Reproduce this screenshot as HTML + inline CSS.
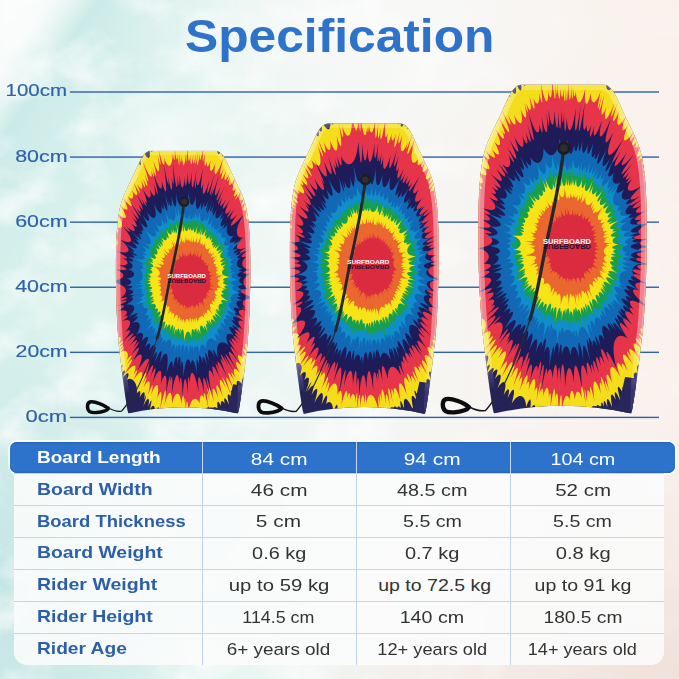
<!DOCTYPE html>
<html lang="en"><head><meta charset="utf-8"><title>Specification</title>
<style>
html,body{margin:0;padding:0}
body{width:679px;height:679px;overflow:hidden;position:relative;background:#eef4f2;font-family:"Liberation Sans",sans-serif}
.bg{position:absolute;left:0;top:0;width:679px;height:679px;
background:
 radial-gradient(ellipse 75px 45px at 165px 128px,rgba(255,255,255,.6),rgba(255,255,255,0) 100%),
 radial-gradient(ellipse 60px 90px at 285px 230px,rgba(255,255,255,.35),rgba(255,255,255,0) 100%),
 radial-gradient(ellipse 280px 120px at 380px 25px,rgba(249,250,249,.75),rgba(249,250,249,0) 100%),
 linear-gradient(125deg,rgba(250,252,252,.96) 0%,rgba(250,252,252,.9) 4.2%,rgba(250,252,252,.45) 6.2%,rgba(250,252,252,0) 8.5%),
 linear-gradient(125deg,rgba(200,233,231,0) 5%,rgba(198,232,230,.75) 8.5%,rgba(203,235,232,.5) 14%,rgba(214,240,236,0) 25%),
 radial-gradient(ellipse 210px 280px at 0px 590px,rgba(194,228,228,.95),rgba(198,230,230,.55) 55%,rgba(210,236,234,0) 100%),
 radial-gradient(ellipse 420px 270px at 679px 679px,rgba(239,224,217,.95),rgba(242,230,224,.5) 55%,rgba(245,236,231,0) 100%),
 linear-gradient(90deg,#dbf2ed 0%,#def3ee 18%,#e6f5f1 32%,#eff6f4 46%,#f5f6f3 60%,#f9f3ef 80%,#faf1ec 100%);}
.art{position:absolute;left:0;top:0}
h1{position:absolute;left:0;top:8px;width:679px;margin:0;text-align:center;font-size:46.5px;line-height:56px;font-weight:700;color:#2f72c9;white-space:nowrap}
h1 span{display:inline-block;transform-origin:50% 50%}
.lab{position:absolute;left:0;width:67.3px;text-align:right;font-size:17px;line-height:22px;color:#2f62a8;white-space:nowrap;-webkit-text-stroke:.15px #2f62a8}
.lab span{display:inline-block;transform-origin:100% 50%}
.tb{position:absolute;left:14px;top:458px;width:650px;height:206.7px;background:rgba(250,252,252,.88);border-radius:0 0 13px 13px}
.row{position:absolute;left:14px;width:650px;height:31.9px;border-top:1.1px solid #c6d6e9;box-sizing:border-box}
.row .c{position:absolute;top:-.2px;height:100%;display:flex;align-items:center;justify-content:center;font-size:17px;line-height:20px;color:#333;white-space:nowrap;box-sizing:border-box}
.row .c span{display:inline-block;transform-origin:50% 50%}
.row .c0{left:0;width:188.5px;justify-content:flex-start;padding-left:23px;font-weight:700;color:#2d5fa8}
.row .c0 span{transform-origin:0 50%}
.row .c1{left:187.7px;width:154px}
.row .c2{left:341.1px;width:154px}
.row .c3{left:492px;width:153.5px}
.row .c1,.row .c2,.row .c3{margin-top:.9px}
.row.hd .c1,.row.hd .c2,.row.hd .c3{margin-top:1.4px}
.vl{position:absolute;top:473px;width:1.2px;height:191.7px;background:#bfd2e6}
.row.hd{left:10px;width:665px;height:31.5px;top:441.9px;background:#2d72cb;border-radius:7px;border:none;box-shadow:0 0 0 1.7px rgba(255,255,255,.9), inset 0 1.2px 0 #2764b5, inset 0 -1.2px 0 #2764b5}
.row.hd .c{color:#fff;top:.5px}
.row.hd .c0{left:0;width:192.5px;padding-left:27px;color:#fff}
.row.hd .c1{left:191.7px}
.row.hd .c2{left:345.1px}
.row.hd .c3{left:496px;width:153.5px}
.hl{position:absolute;top:441.9px;width:1.6px;height:31.5px;background:#c4d9f3}
</style></head><body>
<div class="bg"></div>
<svg class="art" width="679" height="679" viewBox="0 0 679 679">
<defs><path id="bo" d="M125.5,0.0L126.0,0.2L126.8,0.5L127.6,0.8L128.6,1.2L129.5,1.7L130.5,2.5L131.4,3.3L132.3,4.2L133.3,5.2L134.3,6.4L135.4,8.1L136.7,10.3L138.2,13.2L139.8,16.6L141.6,20.4L143.4,24.5L145.2,28.5L147.0,32.4L148.8,36.1L150.7,40.0L152.5,43.8L154.3,47.5L156.0,51.2L157.5,54.6L158.8,57.7L159.8,60.6L160.8,63.3L161.7,66.1L162.4,69.0L163.2,72.2L163.9,75.6L164.5,79.2L165.1,82.9L165.6,86.8L166.1,91.0L166.5,95.6L166.9,100.4L167.2,105.4L167.5,110.6L167.7,116.4L167.9,122.8L168.0,130.0L168.1,138.4L168.1,147.9L168.1,158.1L168.0,168.5L167.8,178.6L167.6,188.0L167.3,196.8L166.9,205.5L166.5,213.9L166.0,221.9L165.5,229.5L165.0,236.6L164.5,243.0L163.9,248.7L163.3,253.9L162.7,258.9L162.1,263.9L161.5,269.0L160.9,274.4L160.2,279.8L159.5,285.1L158.8,290.4L158.1,295.4L157.5,300.0L156.9,304.4L156.3,308.6L155.7,312.5L155.2,316.1L154.6,319.3L154.2,322.0L153.8,324.1L153.5,325.7L153.1,326.9L152.9,327.7L152.7,328.4L152.5,329.0Q84.0,313.5 15.5,329.0L15.3,328.4L15.1,327.7L14.9,326.9L14.5,325.7L14.2,324.1L13.8,322.0L13.4,319.3L12.8,316.1L12.3,312.5L11.7,308.6L11.1,304.4L10.5,300.0L9.9,295.4L9.2,290.4L8.5,285.1L7.8,279.8L7.1,274.4L6.5,269.0L5.9,263.9L5.3,258.9L4.7,253.9L4.1,248.7L3.5,243.0L3.0,236.6L2.5,229.5L2.0,221.9L1.5,213.9L1.1,205.5L0.7,196.8L0.4,188.0L0.2,178.6L0.0,168.5L-0.1,158.1L-0.1,147.9L-0.1,138.4L0.0,130.0L0.1,122.8L0.3,116.4L0.5,110.6L0.8,105.4L1.1,100.4L1.5,95.6L1.9,91.0L2.4,86.8L2.9,82.9L3.5,79.2L4.1,75.6L4.8,72.2L5.6,69.0L6.3,66.1L7.2,63.3L8.2,60.6L9.2,57.7L10.5,54.6L12.0,51.2L13.7,47.5L15.5,43.8L17.3,40.0L19.2,36.1L21.0,32.4L22.8,28.5L24.6,24.5L26.4,20.4L28.2,16.6L29.8,13.2L31.3,10.3L32.6,8.1L33.7,6.4L34.7,5.2L35.7,4.2L36.6,3.3L37.5,2.5L38.5,1.7L39.4,1.2L40.4,0.8L41.2,0.5L42.0,0.2L42.5,0.0Z"/><clipPath id="bc"><use href="#bo"/></clipPath><filter id="nz" x="0" y="0" width="100%" height="100%" color-interpolation-filters="sRGB"><feTurbulence type="fractalNoise" baseFrequency="0.018 0.022" numOctaves="5" seed="11"/><feColorMatrix values="0 0 0 0 1  0 0 0 0 1  0 0 0 0 1  2.2 0 0 0 -0.95"/></filter><linearGradient id="nm" x1="0" x2="1" y1="0" y2="0"><stop offset="0" stop-color="#fff"/><stop offset="0.55" stop-color="#fff" stop-opacity="0.9"/><stop offset="0.8" stop-color="#fff" stop-opacity="0.25"/></linearGradient><linearGradient id="rg" x1="0" x2="0" y1="0" y2="1"><stop offset="0" stop-color="#fff" stop-opacity="0.3"/><stop offset="0.12" stop-color="#fff"/><stop offset="0.78" stop-color="#fff"/><stop offset="0.9" stop-color="#fff" stop-opacity="0"/></linearGradient><mask id="rm" maskUnits="userSpaceOnUse" x="-10" y="-10" width="190" height="350"><rect x="-10" y="-10" width="190" height="350" fill="url(#rg)"/></mask><mask id="nmk"><rect width="679" height="679" fill="url(#nm)"/></mask></defs>
<g mask="url(#nmk)"><rect width="679" height="679" filter="url(#nz)" opacity="0.75"/></g>
<rect x="70" y="91.30" width="589" height="1.4" fill="#2f62ac"/>
<rect x="70" y="156.38" width="589" height="1.4" fill="#2f62ac"/>
<rect x="70" y="221.46" width="589" height="1.4" fill="#2f62ac"/>
<rect x="70" y="286.54" width="589" height="1.4" fill="#2f62ac"/>
<rect x="70" y="351.62" width="589" height="1.4" fill="#2f62ac"/>
<rect x="70" y="416.70" width="589" height="1.4" fill="#2f62ac"/>
<g transform="translate(116.00,150.70) scale(0.7988)">
<path d="M-9.5,322.6C-14,318.6 -27,313.2 -32.5,314.6C-36.8,316 -36.6,323.5 -33,326.6C-29.5,328.8 -20,328 -14,325.8C-11.5,324.9 -10.2,323.8 -9.5,322.6Z" fill="none" stroke="#0c0c0e" stroke-width="4.3" stroke-linejoin="round"/>
<path d="M-9,322.5C-5,324.5 0,326.3 4,326.3L7,326C10,323 13,318.5 16.5,313.5" fill="none" stroke="#151517" stroke-width="1.5" stroke-linecap="round"/>
<g clip-path="url(#bc)">
<rect x="-2" y="-2" width="172" height="335" fill="#25225a"/>
<path d="M91.5,-16.4C91.9,-4.4 94.0,-4.3 95.2,-14.8C97.0,-3.9 103.7,-2.9 106.9,-12.4C107.6,-5.7 111.9,-4.4 115.6,-18.6C114.1,1.9 118.8,3.9 123.8,-11.9C122.0,-0.3 123.6,0.5 128.1,-16.8C124.3,7.7 128.8,10.5 135.4,-7.0C130.9,11.2 132.3,12.2 138.1,-5.6C133.5,12.5 135.5,14.1 143.8,-9.2C136.4,16.1 138.1,17.6 145.2,-0.6C141.3,15.3 145.1,19.1 151.2,8.5C146.5,23.8 149.5,27.5 159.2,10.0C153.2,26.0 155.7,29.5 160.4,23.1C154.5,35.8 155.6,37.4 166.4,18.7C159.0,36.3 162.2,41.8 169.8,33.2C164.7,44.8 167.5,50.4 172.7,46.3C166.2,57.2 167.6,60.6 178.2,48.7C172.8,63.3 178.2,79.4 186.0,79.6C177.7,89.2 179.2,95.3 189.4,90.2C178.7,100.8 180.0,108.0 193.4,102.8C182.5,110.4 183.0,113.7 193.9,109.2C183.4,116.6 184.1,121.8 190.0,121.1C183.6,126.7 184.3,134.7 195.7,134.2C184.7,139.1 185.0,144.3 195.9,143.9C186.3,148.1 186.5,154.9 193.9,156.7C188.7,161.6 188.6,172.9 199.9,177.4C184.0,177.3 183.8,182.0 193.9,185.5C184.7,185.4 184.3,190.4 192.0,194.3C184.8,196.6 183.0,208.9 192.2,217.8C181.3,213.0 181.0,214.6 191.3,220.6C182.4,217.9 181.2,223.3 187.1,229.1C180.5,226.2 179.7,229.5 184.3,233.9C179.7,233.0 178.0,238.8 184.6,246.6C175.2,241.6 172.9,248.0 176.8,254.8C171.1,250.4 170.0,253.2 175.8,260.7C170.8,257.5 169.0,261.7 175.5,271.6C167.6,263.6 166.3,266.2 171.6,274.4C164.1,268.3 160.6,274.6 165.8,286.3C159.7,280.4 156.4,285.6 158.0,292.2C151.7,284.0 148.9,287.9 153.3,299.9C149.0,294.1 146.3,297.3 152.9,315.4C142.8,294.4 141.0,296.3 147.9,315.4C140.4,300.0 137.5,302.8 141.9,318.7C136.4,306.1 134.2,308.1 136.2,316.9C133.1,311.0 130.5,313.1 131.4,319.9C127.7,310.5 125.1,312.3 128.0,327.6C124.2,317.6 121.2,319.4 121.8,327.9C119.1,318.4 117.1,319.4 118.6,331.5C115.1,315.1 114.1,315.6 117.2,335.6C113.1,317.4 110.6,318.4 111.8,332.8C108.7,320.1 105.2,321.2 105.3,333.5C102.3,323.0 96.8,324.1 95.4,333.8C94.2,324.2 91.9,324.4 91.5,337.0C90.5,323.6 88.7,323.7 88.1,336.5C86.7,322.7 82.8,322.5 81.1,336.6C80.6,328.3 78.5,328.0 76.7,348.4C77.3,321.8 74.9,321.3 72.8,336.9C73.6,320.4 72.0,320.1 70.1,333.3C69.8,322.5 65.8,321.2 62.6,334.0C63.6,322.4 61.7,321.6 59.7,329.7C59.8,323.0 57.0,321.7 53.7,333.4C55.6,318.6 52.6,317.0 48.3,330.7C49.9,317.8 46.3,315.4 42.1,325.0C45.9,309.8 44.5,308.8 40.2,321.3C42.9,308.2 40.1,305.9 34.0,320.4C39.2,304.0 38.4,303.2 34.9,312.1C37.6,301.2 34.9,298.6 29.4,309.3C31.9,300.5 29.7,298.2 26.1,304.1C27.7,291.8 20.6,282.3 13.7,286.6C17.7,277.9 15.7,274.7 7.2,285.5C14.0,273.7 12.5,271.1 3.7,281.8C10.0,272.2 9.1,270.6 2.4,278.8C11.5,265.6 10.6,263.8 -3.2,280.4C8.2,262.7 5.3,256.5 -4.7,264.3C3.4,253.0 1.3,247.6 -6.3,252.2C2.0,243.6 1.2,241.5 -13.7,253.5C-2.8,241.4 -4.6,235.4 -13.0,239.1C-6.0,232.2 -7.2,227.7 -14.5,230.6C-5.0,223.7 -5.4,221.7 -18.1,228.5C-5.5,220.2 -6.1,217.9 -17.5,223.4C-7.4,216.1 -8.3,211.5 -14.3,212.6C-8.9,207.0 -10.2,198.1 -17.4,197.1C-9.7,194.1 -9.9,191.9 -20.0,193.8C-9.9,189.4 -10.4,184.0 -17.8,183.4C-11.5,180.6 -11.7,175.6 -21.0,174.6C-11.4,172.8 -11.5,169.7 -18.5,168.9C-12.5,168.3 -12.6,166.9 -22.6,166.6C-14.2,165.0 -14.2,159.6 -20.7,157.4C-11.1,156.9 -11.0,153.4 -20.3,150.9C-14.3,143.7 -12.4,121.1 -16.1,111.5C-10.7,112.2 -9.7,106.3 -17.3,99.3C-7.3,104.1 -6.5,100.2 -13.7,93.5C-7.0,97.3 -6.4,94.5 -14.7,87.0C-3.6,94.1 -2.7,90.4 -12.3,80.7C-4.8,86.4 -4.4,84.8 -10.1,79.0C-1.9,79.5 3.3,64.1 -3.8,47.4C4.6,56.5 6.2,53.0 -1.0,41.0C9.6,54.4 10.9,51.7 5.3,41.7C10.1,47.2 11.6,44.4 2.7,28.3C14.3,43.7 17.5,38.5 10.4,21.4C19.0,36.3 20.3,34.4 16.1,24.7C20.8,30.6 23.9,26.5 19.7,13.3C24.8,21.9 27.6,18.8 25.3,9.8C31.5,23.0 33.5,20.9 27.9,2.7C32.8,12.7 35.8,10.0 33.4,-1.3C39.9,13.9 43.9,10.9 41.9,-2.6C44.8,4.3 47.4,2.7 45.2,-10.5C49.6,3.8 52.2,2.4 49.9,-13.5C54.5,1.4 58.6,-0.4 57.9,-14.2C61.6,-1.6 66.3,-3.0 66.0,-21.2C69.3,-2.4 73.0,-3.1 73.3,-16.7C75.7,-2.8 80.0,-3.2 80.8,-22.5C82.5,-3.4 85.9,-3.4 87.4,-14.3C88.2,-8.4 90.5,-8.3 91.5,-16.4Z" fill="#f4de1b"/>
<path d="M146.5,292.5L158,294L160,333L112,333L114,321.5L140,322Z" fill="#29265a"/><path d="M153,294.5L157.5,295L155.5,327L151.5,324Z" fill="#3b3870"/>
<path d="M89.5,-16.5C89.7,17.9 91.8,18.1 93.1,4.8C93.1,21.1 95.0,21.5 96.7,2.9C96.2,20.5 97.8,20.9 99.8,1.8C98.6,22.1 99.9,22.5 102.6,-2.1C100.6,24.5 102.0,25.0 105.1,1.6C104.1,16.4 105.9,17.1 110.3,-11.0C107.0,18.0 108.6,18.8 111.9,0.6C109.5,21.2 111.5,22.3 113.9,13.0C113.1,21.5 115.2,22.7 118.3,11.5C116.2,28.0 119.4,30.3 124.6,14.9C121.3,33.6 124.7,36.4 135.0,7.2C127.9,33.0 129.8,34.7 134.9,21.7C130.0,38.6 131.6,40.3 138.0,24.7C133.7,39.4 135.8,41.7 143.3,25.8C137.6,40.9 138.5,41.9 143.7,30.6C138.8,45.4 141.4,48.6 151.7,30.0C143.1,50.8 145.5,54.1 151.0,46.3C145.1,59.4 146.8,62.0 155.8,48.7C146.4,65.3 146.9,66.2 158.1,48.3C152.1,61.5 154.8,66.3 162.9,57.7C154.1,71.3 155.0,73.0 166.5,58.5C156.1,74.8 158.2,79.0 166.8,71.1C159.0,83.6 161.8,90.1 173.7,81.6C165.6,90.6 166.6,93.0 171.9,89.3C163.4,100.5 166.0,108.4 180.2,101.8C171.3,110.4 173.0,116.6 189.5,110.0C171.9,120.7 172.6,123.8 183.1,119.9C174.2,125.6 175.0,129.7 188.9,125.7C174.5,132.5 175.0,135.6 185.2,133.4C173.2,137.7 173.4,139.0 183.8,136.4C175.3,139.9 175.7,142.7 184.9,141.3C177.8,145.0 178.3,150.5 186.9,151.2C174.6,153.4 174.7,154.7 190.4,153.3C179.8,156.9 180.1,163.6 192.3,165.5C175.0,166.2 175.0,168.7 189.0,170.3C176.8,171.0 176.5,175.2 186.2,177.8C179.1,177.6 179.0,179.6 189.2,181.9C174.0,180.6 173.7,184.0 184.5,187.7C174.2,186.0 173.9,188.0 196.6,194.6C175.8,191.0 174.8,196.6 183.5,201.8C172.5,198.4 172.0,200.5 180.9,205.0C176.1,203.8 175.6,206.0 182.4,210.0C174.1,207.2 173.4,210.0 183.2,216.2C171.5,211.9 170.1,216.8 179.8,225.0C166.4,218.0 165.1,222.0 174.0,230.3C167.4,227.2 165.8,231.4 175.3,241.5C161.6,230.4 160.9,232.0 173.8,244.5C162.7,235.3 161.8,237.3 169.7,245.9C160.2,238.5 158.4,242.3 166.3,252.9C157.0,244.0 155.7,246.7 165.3,259.6C158.0,252.2 156.6,254.7 159.9,260.4C151.6,251.9 149.4,255.6 158.5,271.5C149.4,260.1 147.3,263.2 154.7,277.7C147.7,268.8 144.9,272.6 149.9,285.1C143.4,274.1 142.3,275.4 149.2,290.3C138.9,271.6 137.1,273.7 147.7,299.0C136.6,277.1 134.4,279.5 144.6,307.0C132.1,277.6 130.9,278.8 137.2,296.9C129.7,280.7 126.9,283.3 134.0,308.9C125.9,287.5 123.3,289.6 128.0,309.8C121.8,292.1 118.9,294.1 122.5,313.8C116.6,292.0 115.0,293.0 118.1,310.7C113.7,291.5 113.0,291.9 117.1,313.5C113.5,298.6 112.1,299.4 116.6,326.8C110.7,297.9 109.0,298.7 110.3,310.2C107.9,303.3 104.5,304.7 104.6,316.1C100.7,306.7 92.9,308.5 90.9,327.0C89.8,308.7 87.9,308.8 87.4,329.7C87.0,305.7 86.0,305.7 85.5,316.2C85.0,303.2 83.1,303.1 81.9,317.8C80.5,300.3 74.3,298.9 70.1,317.3C70.6,298.8 66.1,296.9 60.6,319.6C64.3,293.8 62.2,292.7 54.8,325.7C59.2,298.4 56.2,296.6 51.3,311.6C55.2,289.6 51.2,286.7 43.5,306.3C48.0,289.9 46.4,288.6 40.0,306.1C44.9,286.7 41.3,283.4 34.4,296.6C40.4,280.5 39.4,279.5 32.1,295.7C40.1,275.0 38.6,273.3 31.9,286.0C35.0,275.6 31.8,271.8 21.7,287.4C28.8,273.0 27.7,271.5 21.9,280.4C27.4,267.2 24.2,262.6 10.0,280.7C23.7,259.0 22.4,256.9 13.7,267.7C22.1,254.9 21.1,253.1 13.6,262.0C17.0,253.7 13.5,246.9 4.9,252.5C12.8,243.6 12.3,242.5 2.3,252.3C11.2,242.1 10.3,240.1 1.0,248.1C11.7,237.2 11.0,235.6 1.1,244.0C9.5,234.2 7.7,229.7 -5.0,237.7C6.2,227.2 4.8,223.1 -12.7,233.2C5.0,219.7 3.8,215.9 -4.3,219.2C4.5,212.5 3.5,208.5 -8.0,212.7C2.2,207.1 1.8,205.5 -19.1,214.6C1.8,202.2 0.3,194.6 -15.6,196.8C-2.5,190.8 -3.3,184.9 -14.4,185.1C-0.3,181.6 -0.6,179.2 -13.9,180.3C-6.0,177.5 -6.3,172.6 -23.7,172.1C-6.7,170.2 -6.8,167.5 -16.7,166.8C-6.6,166.1 -6.6,164.4 -21.0,163.5C-4.1,163.3 -4.1,161.9 -14.3,160.9C-5.0,160.0 -4.8,155.9 -13.6,153.4C-5.4,152.9 -5.0,148.3 -14.4,144.9C-6.0,145.6 -5.7,142.7 -10.7,140.4C-0.5,141.9 0.0,138.6 -15.5,132.4C-4.3,135.4 -4.0,133.5 -8.8,131.1C0.0,132.2 1.2,126.1 -7.6,119.5C4.4,122.0 6.7,113.2 -8.7,98.9C3.8,105.9 5.1,101.7 0.1,95.8C8.4,99.4 11.1,92.0 1.0,78.4C14.3,89.6 16.5,84.6 4.4,67.8C15.7,78.8 17.9,74.4 8.1,58.7C21.5,75.0 23.2,71.9 14.5,57.0C20.6,63.3 23.3,58.7 20.2,50.2C27.3,60.2 29.5,56.9 21.6,39.2C31.4,57.0 32.4,55.7 26.1,41.8C32.5,51.8 35.0,48.5 31.2,36.6C37.5,49.8 38.6,48.5 33.0,33.5C40.0,48.8 41.7,46.9 35.6,28.7C42.2,44.6 43.4,43.3 32.4,10.4C43.6,38.8 46.4,36.2 43.8,23.8C48.3,36.9 49.5,35.9 45.4,20.0C50.8,36.9 52.3,35.7 46.6,11.9C53.2,32.1 56.2,29.9 52.0,5.0C56.4,23.3 57.6,22.5 52.7,-4.4C59.2,23.3 61.7,21.8 60.3,8.5C65.1,24.4 70.9,21.8 71.0,2.6C72.8,15.8 74.4,15.3 73.3,-4.8C75.6,15.5 77.3,15.0 77.1,2.3C78.8,23.3 80.0,23.0 79.3,0.5C80.6,18.0 82.1,17.7 82.2,5.6C83.7,22.7 86.4,22.5 87.2,1.4C87.5,20.9 88.6,20.9 89.5,-16.5Z" fill="#e6344a"/>
<path d="M86.0,31.7C86.2,47.7 87.2,47.8 88.0,33.6C87.9,47.0 88.8,47.1 90.0,25.2C90.0,46.8 92.5,47.2 94.9,26.7C93.8,52.9 96.4,53.6 100.9,22.7C97.7,53.2 98.7,53.5 101.5,34.7C100.7,47.5 103.4,48.6 109.1,21.0C104.6,51.0 106.5,52.0 109.6,39.9C107.0,58.5 109.8,60.3 117.1,36.0C111.9,59.5 113.6,60.8 123.7,28.3C115.0,60.3 116.3,61.3 122.5,42.9C116.9,62.2 117.8,63.1 129.1,30.4C120.5,59.8 123.1,62.4 131.2,44.8C123.1,67.5 124.5,69.1 135.7,44.8C124.7,71.8 125.8,73.2 134.0,56.8C128.1,71.7 129.9,74.0 137.9,60.2C131.1,75.3 132.6,77.6 142.5,61.7C133.8,79.7 136.1,83.6 144.2,73.7C136.2,86.7 137.1,88.3 148.9,72.2C139.9,87.1 141.6,90.5 151.9,79.5C139.3,97.0 140.6,100.1 160.1,79.9C146.8,99.7 150.4,110.4 159.0,108.5C147.5,119.7 149.1,126.4 162.4,121.5C151.4,128.5 151.8,130.7 169.3,122.9C154.0,131.6 154.5,134.9 163.5,132.4C155.1,139.0 156.0,148.0 168.2,148.8C156.2,152.0 156.4,154.7 168.3,154.1C157.3,158.6 157.3,168.8 165.1,173.2C151.4,173.3 151.2,177.9 177.6,185.3C155.9,183.3 155.1,191.5 164.0,198.0C156.0,195.0 155.9,196.1 164.6,200.3C151.7,196.6 150.7,202.1 159.5,209.3C148.2,203.2 147.8,205.0 160.3,213.7C151.8,210.2 150.6,215.4 158.9,224.0C150.2,218.3 149.4,221.1 157.2,229.3C146.7,220.8 146.0,222.9 155.0,232.5C147.1,225.7 146.5,227.5 156.4,238.5C145.2,228.1 144.3,230.4 153.3,241.6C143.0,231.3 141.9,233.8 149.6,244.5C138.8,232.3 138.0,234.1 152.4,254.2C140.7,240.0 139.5,242.5 154.0,264.9C138.5,244.5 136.5,247.9 151.5,274.7C133.7,246.7 132.5,248.5 149.0,279.0C132.5,250.7 131.7,251.9 141.9,271.9C129.6,250.0 128.6,251.4 135.4,266.1C129.8,256.4 128.4,258.1 139.5,283.8C126.4,257.5 124.4,259.7 130.0,275.8C123.8,262.0 122.5,263.2 130.6,285.8C120.9,263.5 118.2,265.8 122.8,283.8C116.4,268.5 112.7,271.0 120.4,307.1C112.0,275.4 110.8,276.1 116.9,304.1C109.6,277.1 106.9,278.4 111.3,306.9C104.4,276.2 101.2,277.3 103.6,302.7C97.7,271.4 92.8,272.4 92.3,291.9C91.0,278.2 89.5,278.3 90.0,304.7C88.0,278.5 84.8,278.6 83.4,310.5C82.8,279.1 80.5,279.1 79.3,292.2C78.5,275.2 74.3,274.6 69.5,306.9C71.8,278.9 70.0,278.5 67.8,290.1C68.9,277.8 67.4,277.3 62.2,306.6C65.4,277.2 61.2,275.5 56.0,292.1C58.9,271.5 54.3,268.7 45.7,291.1C51.9,268.2 49.9,266.6 42.9,284.4C49.0,264.3 46.9,262.3 37.2,284.5C45.9,256.9 41.5,251.9 26.8,275.8C36.2,253.8 32.7,248.6 20.6,263.9C32.5,243.6 30.9,240.7 17.7,257.4C32.1,236.4 31.3,234.8 20.4,248.2C29.3,235.2 28.1,232.6 17.0,244.3C27.9,230.1 26.8,227.4 13.4,240.3C26.0,226.0 25.2,223.7 7.3,240.2C20.7,225.4 19.5,221.7 11.2,227.2C21.2,215.8 19.4,208.7 8.0,213.2C16.9,206.9 16.5,205.1 9.7,208.4C16.1,202.6 15.2,197.2 1.6,201.2C13.2,194.9 12.8,191.4 0.3,194.7C17.1,187.9 16.9,185.8 2.2,189.4C17.8,184.2 17.6,182.4 4.3,185.2C16.9,178.5 16.6,167.8 -7.0,163.7C13.6,161.3 13.9,153.7 -1.1,148.3C17.4,150.9 17.7,148.0 1.9,142.8C17.2,145.1 17.8,139.8 8.1,134.1C16.9,136.7 17.3,134.2 -0.7,124.9C19.1,131.4 20.6,124.1 5.9,111.4C21.6,119.2 23.7,112.1 8.5,95.3C19.9,104.9 20.5,103.1 12.7,94.6C24.9,104.7 26.3,100.9 18.9,90.7C27.4,98.8 28.8,95.6 19.7,82.5C28.0,91.9 28.9,90.0 18.5,74.7C32.1,91.8 33.4,89.3 14.7,59.8C33.7,87.5 34.4,86.2 25.6,71.4C31.8,79.8 33.2,77.4 27.3,65.5C35.5,78.5 36.8,76.5 25.0,52.8C35.8,72.1 36.8,70.7 30.9,58.0C39.0,73.2 39.9,72.0 35.4,61.7C39.5,68.6 40.9,66.8 33.1,47.3C42.0,63.9 45.2,60.4 42.5,48.7C48.3,61.3 51.2,58.7 46.7,40.0C53.9,61.8 55.2,60.8 46.1,25.8C55.2,53.8 58.8,51.4 57.1,37.3C62.8,58.9 65.5,57.4 59.5,15.5C65.5,48.0 66.9,47.3 65.3,32.8C69.2,54.2 71.2,53.4 69.8,33.8C71.8,46.6 73.4,46.2 71.0,13.1C75.3,52.8 77.5,52.4 77.1,31.1C78.5,47.9 79.9,47.8 79.7,29.6C81.5,51.5 84.7,51.4 86.0,31.7Z" fill="#1e1b59"/>
<path d="M91.3,52.1C92.1,72.3 96.5,72.9 100.0,56.6C99.0,76.6 102.9,77.7 107.3,62.8C105.1,76.7 106.7,77.3 110.7,62.9C109.3,72.6 111.6,73.8 116.3,60.3C110.9,80.5 111.8,81.0 117.3,63.7C112.2,82.4 113.4,83.2 121.0,61.7C115.6,79.9 117.2,81.0 123.6,65.2C118.6,80.0 119.7,80.8 122.8,73.9C119.8,83.0 121.0,84.0 125.9,73.8C122.3,85.9 125.7,89.2 134.2,76.4C128.9,87.5 130.2,89.0 135.6,80.9C128.3,95.7 130.3,98.4 137.5,89.8C132.2,98.6 133.3,100.2 139.8,92.4C136.2,101.8 140.2,109.5 147.5,106.4C139.8,115.2 141.1,118.3 151.3,111.2C145.0,117.4 145.7,119.6 161.8,108.4C142.6,124.1 143.5,127.1 155.1,120.8C144.1,128.7 144.7,130.8 156.1,125.0C147.1,130.9 147.5,132.8 160.0,127.0C149.8,133.2 150.3,135.8 155.5,134.4C149.0,139.8 150.0,146.9 158.2,147.4C152.3,149.5 152.4,151.3 158.3,150.8C150.0,153.8 150.2,158.0 157.2,158.8C152.7,160.7 152.7,165.6 160.3,167.5C150.5,168.4 150.3,172.3 162.4,175.2C150.9,174.3 150.7,176.5 158.2,178.6C151.1,178.2 150.9,181.0 158.3,184.0C149.2,182.1 149.0,183.9 158.5,187.5C148.9,186.5 148.0,192.4 156.4,198.6C145.4,194.4 144.7,197.8 153.1,204.0C146.6,201.0 146.0,203.0 157.6,211.6C144.8,204.4 143.8,207.8 150.3,214.3C142.3,209.0 141.5,211.2 157.3,226.0C143.8,215.1 143.0,217.2 149.4,224.3C140.4,217.2 138.9,220.3 147.6,231.4C139.0,225.3 135.4,231.5 140.9,243.4C130.7,234.5 123.7,242.4 127.4,259.1C120.8,245.0 119.5,246.0 123.7,258.0C116.7,244.3 113.0,246.9 116.5,263.5C111.1,247.5 109.5,248.4 114.8,270.9C109.6,254.3 107.2,255.4 108.9,267.4C104.7,251.5 102.4,252.4 104.6,270.7C101.6,256.8 99.5,257.3 101.8,280.4C97.8,258.8 94.4,259.4 93.8,268.1C91.5,256.7 86.7,256.9 84.4,284.5C84.3,259.3 82.3,259.2 80.9,271.5C81.2,253.6 78.9,253.3 76.5,269.9C77.3,253.4 75.0,252.9 70.9,275.0C72.0,259.6 68.7,258.5 63.1,279.5C67.5,249.6 62.4,247.0 54.5,265.4C59.7,246.2 57.2,244.5 47.3,267.6C53.6,249.0 51.8,247.4 45.3,260.2C52.3,242.6 50.8,241.2 44.3,253.2C49.5,240.9 47.9,239.3 40.6,251.5C45.1,240.5 42.7,237.6 35.2,247.2C43.3,231.9 40.9,228.5 31.7,238.6C36.2,229.7 33.4,224.6 25.4,230.3C33.0,218.8 30.0,211.5 20.2,215.8C29.7,207.6 29.1,205.4 21.3,209.8C30.2,202.8 29.5,200.6 15.7,208.1C26.6,198.6 25.0,190.7 12.2,192.7C23.7,187.1 23.2,183.4 17.3,183.8C24.0,181.4 23.9,179.8 15.3,181.2C24.1,177.7 23.8,173.5 13.4,173.3C22.9,171.4 22.9,169.1 12.2,168.9C21.1,166.9 21.1,162.0 13.1,160.0C25.4,158.7 25.8,152.6 15.3,148.2C22.5,148.0 23.1,142.8 15.4,138.1C23.4,140.1 23.8,137.5 14.9,132.6C24.3,135.8 24.9,133.0 18.7,128.7C29.3,133.8 29.5,132.6 16.9,125.0C25.0,128.7 25.6,126.4 12.7,117.2C29.1,126.3 30.1,122.7 18.7,112.5C30.5,120.5 31.5,117.9 22.4,109.0C30.3,115.0 31.0,113.2 17.9,100.1C34.2,114.6 34.9,113.1 26.5,104.0C32.3,109.3 32.8,108.3 27.9,102.6C33.1,106.7 34.3,104.3 31.1,99.2C34.8,102.1 36.4,99.3 29.1,88.2C40.4,101.0 42.6,97.6 33.4,81.0C41.7,91.7 44.0,88.9 38.6,76.8C48.3,90.1 53.0,85.5 47.3,66.1C55.8,83.6 59.2,81.2 56.4,68.0C59.5,75.8 61.2,74.8 58.8,63.9C64.4,80.9 66.7,79.8 60.9,51.1C66.2,72.6 67.3,72.1 65.6,61.9C68.8,73.2 71.1,72.4 69.1,55.5C73.5,75.8 76.5,75.1 75.2,53.3C77.9,70.2 80.6,69.8 80.8,56.7C82.4,74.0 84.1,73.9 84.2,55.7C85.8,73.2 89.4,73.2 91.3,52.1Z" fill="#1169b5"/>
<path d="M91.8,78.2C92.5,87.8 95.3,88.1 97.2,78.7C96.8,87.9 98.2,88.2 100.8,72.0C99.3,86.3 100.2,86.6 102.6,73.1C100.8,88.5 102.3,88.9 105.7,73.5C104.1,90.3 108.1,92.2 112.5,82.7C111.0,90.2 112.8,91.3 118.3,77.4C113.3,95.4 115.7,97.2 121.8,85.3C117.5,97.4 119.2,98.8 123.2,92.0C120.9,98.8 122.8,100.7 126.3,96.1C123.6,102.1 124.5,103.2 132.7,90.5C123.7,106.3 124.4,107.2 130.9,97.8C127.7,104.0 128.9,105.6 133.0,100.9C130.2,107.4 132.7,111.5 138.2,107.6C132.8,116.4 135.2,121.5 142.6,117.6C137.9,123.0 139.1,126.3 143.2,124.7C136.6,130.1 137.2,131.8 144.9,127.4C137.2,133.0 137.7,134.7 146.4,130.2C140.4,134.6 140.9,136.8 147.7,134.2C141.4,138.7 142.1,142.2 147.2,141.5C141.2,145.3 141.8,149.7 147.9,149.7C141.0,151.8 141.1,153.1 149.5,152.0C142.4,155.1 142.7,160.3 153.1,161.8C141.5,163.3 141.5,167.0 149.9,168.9C143.9,169.9 143.6,174.2 154.7,178.0C142.6,178.0 141.5,185.6 146.2,190.5C139.6,189.4 138.3,194.5 150.8,204.9C137.2,197.0 136.2,200.0 144.8,208.2C136.9,203.1 135.6,206.1 139.6,211.2C134.7,208.5 132.8,212.4 138.2,220.8C129.9,212.4 128.5,214.7 136.9,227.2C128.4,216.6 127.7,217.7 132.6,225.3C127.1,219.8 124.8,222.9 130.4,235.0C124.1,226.0 122.1,228.3 126.8,239.9C118.9,230.4 112.2,235.6 112.7,247.4C108.8,239.5 104.5,241.4 105.1,253.9C102.2,241.2 100.5,241.7 100.8,248.6C99.4,243.0 97.4,243.4 97.5,251.5C96.1,242.8 94.5,243.0 94.4,249.2C93.3,240.6 91.5,240.7 91.3,255.7C89.9,241.2 86.8,241.2 85.3,251.6C85.1,239.2 82.8,238.9 80.7,253.6C81.1,240.4 78.8,239.9 76.6,249.9C77.3,241.0 75.9,240.6 73.0,254.1C74.6,240.1 72.3,239.1 69.2,248.7C70.7,235.1 66.5,232.7 61.8,241.4C62.8,236.0 60.8,234.5 56.8,242.0C60.0,232.8 58.6,231.6 55.9,236.1C57.8,228.6 54.7,225.4 49.7,231.1C52.5,225.2 51.3,223.9 45.1,232.6C51.2,221.5 49.7,219.3 44.7,224.7C47.8,218.8 46.2,216.1 37.2,225.3C47.0,212.9 46.2,211.4 40.1,217.4C46.5,209.4 45.6,207.5 37.4,214.7C43.0,207.4 41.3,203.6 36.0,206.1C41.8,199.6 40.4,195.2 33.8,197.5C36.6,195.2 36.1,193.6 32.3,195.1C36.2,191.8 35.5,188.6 24.3,192.4C35.2,186.6 34.8,184.0 28.7,185.2C37.2,181.1 36.8,178.2 30.0,179.0C34.4,177.2 34.2,175.1 30.0,175.2C35.4,173.6 35.3,171.8 22.0,173.1C36.5,170.2 36.4,167.8 21.7,167.8C35.0,166.6 35.0,165.5 28.6,165.3C34.3,161.9 34.7,152.8 30.0,148.5C35.8,148.8 36.3,145.4 29.5,141.7C37.0,143.8 37.4,141.8 22.6,134.5C37.6,139.4 38.7,134.7 32.5,129.2C39.1,132.6 39.5,131.0 32.9,125.8C38.4,128.2 39.5,124.9 32.0,117.4C43.5,125.8 44.4,123.7 36.6,115.7C44.5,120.4 47.2,115.2 36.2,99.0C49.6,112.6 52.7,108.1 48.1,97.5C54.1,105.5 55.8,103.4 49.8,90.5C56.0,98.6 59.5,95.3 56.3,83.4C61.6,95.2 62.9,94.2 60.3,85.8C64.3,94.3 66.2,93.0 61.4,74.7C66.8,89.7 68.8,88.5 68.1,82.7C71.9,91.4 75.9,89.8 74.0,68.2C77.4,87.2 78.8,86.8 76.6,65.6C80.4,87.0 83.6,86.5 83.9,71.2C86.2,88.4 90.2,88.3 91.8,78.2Z" fill="#108ecb"/>
<path d="M90.7,85.7C91.6,91.9 94.9,92.3 96.9,82.9C96.2,94.2 97.2,94.4 98.9,84.0C98.5,92.4 100.2,93.0 102.9,81.0C101.4,92.7 102.6,93.1 104.1,88.3C103.3,93.8 104.2,94.2 106.4,85.9C105.0,95.0 106.7,95.8 109.8,86.9C108.1,95.6 109.9,96.6 112.2,91.9C110.6,98.8 112.0,99.8 114.6,94.3C113.2,101.3 115.9,103.6 120.6,96.4C116.6,106.6 118.3,108.3 123.1,101.1C121.3,106.2 123.1,108.4 125.9,105.8C124.8,111.8 128.8,118.2 133.8,116.7C130.7,120.9 131.7,123.0 138.2,118.1C131.8,125.1 132.9,127.7 136.7,125.9C132.3,131.2 133.9,135.7 140.4,133.8C136.7,137.0 137.5,139.9 143.9,138.1C136.7,142.0 137.0,143.7 143.4,141.9C137.6,144.9 138.0,147.2 143.7,146.4C136.8,149.3 137.2,152.0 145.2,151.2C138.3,153.7 138.5,156.8 143.1,157.4C137.2,159.4 137.2,163.7 144.8,165.6C137.6,166.5 137.4,170.4 143.4,172.9C136.9,173.1 136.4,177.5 147.0,182.7C136.4,180.1 135.7,183.3 145.4,189.0C137.3,186.5 136.5,189.8 138.7,192.4C135.9,191.7 135.0,194.3 140.4,199.1C131.9,194.1 130.9,196.6 138.7,204.2C132.3,200.6 130.5,204.5 134.9,211.0C129.5,207.2 127.5,210.7 130.2,216.2C125.2,210.5 124.3,211.8 128.7,218.9C123.7,212.7 122.9,213.8 127.9,222.3C123.1,216.3 121.5,218.2 122.8,222.1C119.5,218.9 116.5,221.9 117.4,227.2C114.9,223.4 113.1,224.9 115.1,232.0C112.2,225.3 111.4,225.9 115.2,237.8C110.3,227.2 107.2,229.1 108.8,240.3C105.2,231.2 101.5,232.7 102.2,245.0C99.4,230.9 97.7,231.4 98.2,241.1C96.9,233.1 95.9,233.3 96.1,239.4C94.9,231.0 93.9,231.2 94.3,243.1C93.0,230.7 91.5,230.8 91.4,244.1C90.7,235.4 89.3,235.4 88.8,240.5C87.9,231.9 85.1,231.7 83.5,240.5C83.3,231.6 80.8,231.1 78.8,240.0C78.6,232.7 75.4,231.5 72.9,237.5C73.9,229.5 72.1,228.6 67.5,243.1C70.5,229.2 68.6,228.1 65.2,236.1C67.9,224.7 65.3,222.8 60.4,231.9C63.0,223.8 61.3,222.3 57.6,228.2C60.7,219.9 59.0,218.1 55.0,223.6C56.2,217.3 52.4,212.2 45.9,217.0C52.1,207.6 50.6,204.9 44.5,209.9C48.0,205.1 46.9,203.0 43.6,205.1C48.1,199.2 46.7,195.8 37.9,200.8C43.7,195.8 43.1,194.2 39.8,195.8C43.4,192.2 42.4,189.1 32.4,193.3C42.7,186.4 41.9,183.1 36.9,184.0C40.6,181.6 40.2,179.3 34.4,180.3C41.1,177.1 40.7,174.1 35.9,174.1C38.4,171.7 38.1,166.3 34.4,164.6C40.8,163.9 40.7,162.4 31.7,161.8C39.2,160.6 39.3,156.8 33.2,154.7C40.7,155.0 40.9,153.0 35.4,151.1C38.6,151.2 38.8,149.7 35.9,148.4C39.9,147.9 40.6,143.6 31.1,138.0C41.4,141.6 41.8,139.7 35.1,135.6C43.5,139.1 44.0,137.4 37.9,133.2C44.8,135.2 46.5,130.3 39.2,122.4C45.7,126.5 46.7,124.1 41.5,118.1C47.4,122.7 48.4,120.7 44.6,115.7C49.2,118.8 51.0,115.7 46.8,108.6C51.4,113.2 52.9,111.1 50.8,106.6C53.9,110.1 55.0,108.6 53.4,104.9C57.1,109.9 58.3,108.5 53.7,99.0C57.8,105.1 59.1,103.8 55.7,95.8C61.1,105.9 62.0,105.1 58.9,97.7C62.0,102.8 63.6,101.4 61.8,95.0C65.0,99.0 68.7,96.5 67.9,88.4C70.6,96.0 71.9,95.3 70.9,89.0C72.6,94.0 73.8,93.5 73.3,89.4C75.0,95.5 76.0,95.1 74.5,85.3C76.8,93.0 79.4,92.2 79.1,83.3C81.1,93.4 83.0,93.0 82.9,82.3C83.9,92.1 84.6,92.0 84.5,86.2C86.0,92.7 89.4,92.6 90.7,85.7Z" fill="#179f4d"/>
<path d="M90.8,95.3C91.1,100.9 92.4,101.0 93.2,95.8C93.7,101.3 96.0,101.8 97.5,96.4C97.1,104.6 99.1,105.2 102.0,93.2C100.0,106.8 101.4,107.3 103.8,99.4C102.5,106.5 103.5,107.0 107.1,95.1C103.8,108.5 104.7,108.9 108.5,97.3C106.2,107.5 108.1,108.7 113.1,97.4C109.7,108.2 111.0,109.2 113.7,104.3C111.5,111.2 113.1,112.6 117.4,105.5C114.8,111.3 115.3,111.8 119.0,105.1C116.0,112.2 117.1,113.5 120.9,108.2C117.9,114.6 119.4,116.3 121.9,113.9C119.1,119.1 120.1,120.5 124.0,116.3C119.7,122.6 120.5,123.7 126.9,116.5C122.0,123.3 122.7,124.5 130.2,117.0C123.5,125.7 124.9,128.3 133.2,122.0C125.3,129.8 125.8,131.0 134.3,124.5C128.2,131.5 129.9,135.9 135.1,134.4C128.5,139.2 129.1,141.1 137.0,137.7C128.9,142.8 129.5,145.1 137.7,142.6C132.6,145.5 133.1,147.7 136.2,147.5C130.4,151.4 131.0,157.1 142.9,158.0C132.3,159.7 132.3,162.2 136.9,163.1C132.6,164.0 132.5,166.9 140.6,168.8C134.0,168.8 133.8,171.1 140.1,173.2C131.7,171.8 131.6,172.9 136.9,174.6C131.1,174.2 130.7,177.1 135.6,179.9C129.6,178.8 128.9,181.8 140.9,188.9C130.7,184.8 129.8,187.7 134.2,191.6C128.7,190.3 126.5,195.7 129.8,201.3C123.5,195.8 122.9,197.0 129.7,204.7C122.4,197.5 121.9,198.3 132.1,209.9C123.0,200.9 121.8,202.8 127.0,210.4C120.4,203.3 119.0,205.3 124.5,214.7C119.1,208.4 117.3,210.5 120.3,217.7C115.1,209.2 114.3,210.0 118.9,219.5C113.3,209.9 112.1,211.0 114.9,218.4C112.7,215.1 111.3,216.3 115.2,227.4C110.2,216.3 109.0,217.1 111.3,224.8C106.7,215.4 103.8,217.1 106.0,230.4C103.3,221.2 102.0,221.8 103.4,230.8C100.7,219.2 100.1,219.5 101.7,229.3C99.5,220.8 97.9,221.3 98.2,227.7C96.4,220.7 94.2,221.1 94.4,233.8C92.0,223.1 87.6,223.2 85.3,238.2C85.3,220.4 82.7,220.0 80.5,231.1C81.5,220.5 80.6,220.2 79.0,229.4C79.7,220.8 78.0,220.2 75.8,228.0C76.6,221.8 75.1,221.2 72.1,231.2C75.0,217.5 73.8,216.9 70.3,227.6C73.0,216.1 71.3,215.1 66.9,225.9C69.4,216.3 67.2,214.7 62.5,223.5C65.3,215.8 64.2,214.8 58.5,225.5C63.8,212.6 61.8,210.5 56.3,218.0C61.3,208.4 60.2,207.1 54.4,214.6C59.9,205.0 58.4,203.0 52.2,209.7C57.7,201.3 56.2,199.0 50.7,203.5C54.0,198.6 52.7,196.0 48.6,198.3C51.4,194.0 49.8,189.9 43.3,192.3C49.9,187.4 49.4,185.9 41.0,190.1C49.8,184.7 49.6,183.9 41.5,187.9C48.6,183.4 48.2,181.5 41.5,183.9C47.7,179.8 47.0,176.2 41.2,176.7C45.9,174.9 45.7,174.0 40.6,174.9C47.1,172.5 46.8,170.3 41.1,170.5C44.9,169.0 44.7,166.5 38.9,166.1C44.6,165.0 44.6,163.1 39.1,162.4C44.0,161.9 44.1,160.1 38.2,159.1C45.9,159.2 46.0,157.8 40.7,156.7C43.9,156.6 44.0,155.3 39.0,154.0C47.1,154.3 47.5,150.9 41.5,147.8C45.9,148.8 46.1,147.6 41.9,145.7C48.0,146.8 48.7,143.7 40.8,138.7C48.2,141.8 48.6,140.5 43.7,137.3C47.2,138.7 47.7,137.2 41.9,133.0C51.0,137.5 52.1,134.5 47.3,129.5C52.1,131.4 53.9,127.6 49.7,121.2C55.0,125.7 56.3,123.6 51.1,116.0C57.7,123.3 58.5,122.0 53.3,114.1C59.3,121.3 60.4,119.9 55.7,111.6C59.9,117.2 60.9,116.1 56.5,107.6C62.1,115.0 64.6,112.6 63.1,106.8C66.1,112.0 67.4,110.9 63.3,99.3C67.9,107.8 70.5,106.0 69.4,98.8C71.7,105.1 72.6,104.6 70.8,96.8C73.7,105.2 75.2,104.5 74.3,98.5C76.7,106.8 77.8,106.3 75.1,90.0C78.7,106.1 80.2,105.6 79.1,95.0C81.3,105.3 83.2,104.9 82.4,88.6C84.2,104.9 85.2,104.8 84.9,92.5C86.5,103.2 89.6,103.1 90.8,95.3Z" fill="#f6e416"/>
<path d="M92.2,109.5C92.4,116.3 93.4,116.4 94.3,107.0C94.2,116.9 95.7,117.2 97.3,108.3C97.0,116.9 99.0,117.5 101.6,107.5C100.2,118.2 102.1,119.1 106.5,105.8C104.1,117.7 106.4,119.1 109.0,114.9C107.6,119.9 108.8,120.8 112.0,114.9C110.3,122.2 113.5,125.4 117.6,121.9C114.3,128.3 115.6,130.2 119.1,127.1C117.4,130.1 118.3,131.6 123.8,126.6C116.8,134.8 117.3,135.7 122.8,130.9C119.7,134.6 120.3,135.9 127.3,130.3C118.7,138.4 119.3,139.7 127.2,134.1C120.3,140.7 121.3,143.4 125.9,141.8C123.4,144.2 124.0,146.6 128.2,145.6C124.1,148.1 124.4,149.8 128.6,148.9C123.5,151.6 123.9,154.3 129.9,154.0C122.9,155.9 123.0,157.2 135.6,155.8C125.2,158.4 125.3,161.6 130.6,162.7C125.7,164.2 125.4,168.6 133.0,171.9C125.3,170.8 125.0,173.0 127.9,174.7C122.7,174.3 121.8,177.9 127.3,182.3C123.3,180.7 122.8,182.4 126.1,185.3C122.5,184.0 121.6,186.4 125.0,190.3C119.2,186.3 118.4,188.1 122.9,193.4C117.3,189.5 115.6,192.4 120.2,200.1C116.1,195.3 115.5,196.2 121.6,205.3C114.0,196.2 112.2,198.3 114.7,204.6C112.1,201.3 110.5,202.7 111.5,206.5C109.1,201.9 108.3,202.5 110.8,209.1C107.3,205.2 102.8,207.8 102.7,215.0C100.3,206.3 98.9,206.8 99.9,215.8C98.2,207.8 96.8,208.1 97.4,216.3C95.8,207.8 94.4,208.0 94.5,217.4C93.3,206.4 92.0,206.5 91.6,216.3C90.5,208.8 87.4,208.6 85.6,216.5C85.7,209.1 84.1,208.7 82.2,216.4C82.9,209.1 81.5,208.6 79.5,215.3C81.2,206.3 80.5,206.0 78.4,213.5C80.2,205.4 79.5,205.1 76.4,215.6C78.7,203.9 76.2,202.4 71.8,211.0C74.2,202.7 72.2,201.0 68.6,206.2C70.9,200.1 69.4,198.5 64.3,205.3C69.1,197.1 68.5,196.3 65.2,200.7C68.2,195.0 66.9,193.1 63.0,196.8C65.0,193.3 64.1,191.8 60.7,194.5C63.5,190.8 62.8,189.5 59.6,191.8C63.8,186.8 62.8,184.8 55.1,189.7C60.0,184.3 58.6,180.2 54.1,180.9C58.0,177.8 57.3,174.7 54.3,174.6C57.8,172.4 57.3,169.3 52.1,169.1C57.5,167.5 57.3,165.6 51.9,165.4C56.5,164.5 56.4,162.7 51.7,162.2C58.2,161.4 58.2,159.1 51.1,157.6C56.3,156.2 57.1,150.5 47.7,144.7C58.7,148.2 59.3,145.8 50.8,140.3C61.3,145.0 62.2,142.5 55.4,136.6C60.4,139.5 61.0,137.9 56.5,133.4C61.3,135.9 62.9,132.7 59.2,127.0C65.7,133.5 66.4,132.4 58.9,122.5C67.0,131.2 68.6,129.1 64.9,121.8C68.1,125.9 69.1,124.7 67.8,121.4C69.7,123.9 70.6,123.0 69.5,119.8C71.4,122.2 72.9,121.0 69.2,110.8C74.3,122.0 75.2,121.4 72.7,114.0C75.5,119.2 77.6,117.9 76.1,109.5C79.6,120.1 80.9,119.5 79.4,111.1C81.1,116.8 82.2,116.4 80.1,103.1C83.3,117.8 84.6,117.4 84.1,110.3C85.5,117.8 86.6,117.6 86.1,107.1C87.2,115.1 88.3,114.9 88.3,107.3C89.0,113.8 90.0,113.8 90.2,108.3C90.7,114.1 91.8,114.1 92.2,109.5Z" fill="#ea672f"/>
<path d="M93.1,124.2C93.9,133.4 96.3,133.7 98.4,125.0C97.7,132.7 98.9,133.1 100.4,128.1C99.2,135.2 100.2,135.6 103.8,123.7C101.3,134.1 102.4,134.7 104.1,131.0C102.8,135.8 103.6,136.4 108.1,126.7C105.2,136.2 107.6,138.4 110.3,136.3C108.8,139.9 110.4,142.0 113.8,139.4C110.8,143.7 111.9,145.5 116.3,142.6C113.4,147.2 115.1,151.9 119.4,152.0C114.9,154.5 115.3,156.3 121.8,155.3C116.2,157.8 116.4,160.8 120.4,161.7C115.9,162.4 115.9,164.2 120.3,165.2C116.9,165.1 116.8,165.6 121.1,166.4C116.3,166.2 116.2,167.7 122.7,169.7C116.0,168.9 115.5,171.3 122.9,175.2C114.8,172.7 114.0,175.2 117.7,178.6C112.2,175.9 111.3,177.8 117.6,184.3C110.9,178.8 110.4,179.7 115.5,185.4C111.2,181.3 110.8,181.9 113.8,185.6C109.5,182.8 107.0,185.8 111.4,196.5C105.6,186.6 104.8,187.3 107.6,194.4C103.9,187.8 102.4,188.8 104.7,197.6C101.5,190.3 99.5,191.2 100.0,197.2C98.8,193.1 97.7,193.4 97.9,198.1C96.3,192.0 94.2,192.3 93.6,197.9C93.1,193.2 91.9,193.2 91.2,199.1C91.0,194.0 89.5,193.8 88.3,200.0C88.8,193.5 87.9,193.3 86.4,200.0C87.5,191.1 86.1,190.6 83.9,197.1C84.5,191.6 82.1,190.3 79.1,195.1C81.2,189.4 80.4,188.8 78.0,192.9C80.0,188.0 79.2,187.2 76.0,192.1C78.6,187.0 78.1,186.5 74.6,191.6C77.9,185.3 76.8,183.9 71.9,189.0C75.6,183.9 75.0,182.9 71.2,186.6C74.1,181.7 72.4,178.4 68.3,179.8C72.7,175.4 71.6,172.0 66.9,172.5C69.7,170.8 69.4,169.0 65.7,169.3C71.3,167.2 71.1,165.1 66.6,164.7C71.2,163.7 71.2,161.9 65.9,161.0C69.0,160.4 69.2,158.1 66.8,156.8C70.7,157.0 71.0,155.1 65.1,152.3C71.9,154.0 72.5,151.7 68.3,148.4C71.3,149.7 71.7,148.6 69.5,146.7C73.9,148.7 74.9,146.6 71.4,142.3C74.1,144.4 74.6,143.6 72.6,141.1C74.5,142.1 75.6,140.4 71.5,133.9C76.4,139.4 77.7,138.0 76.5,134.8C79.0,137.7 80.6,136.3 78.1,129.0C81.9,135.3 84.2,133.9 82.8,125.3C85.6,134.6 86.2,134.3 85.0,127.9C86.5,133.8 87.0,133.7 85.9,127.7C87.9,134.2 89.7,133.8 89.8,128.3C90.5,132.9 91.2,132.8 91.1,126.0C91.7,131.8 92.8,131.8 93.1,124.2Z" fill="#db2b3e"/>
<g mask="url(#rm)"><use href="#bo" fill="none" stroke="#ffffff" stroke-opacity="0.40" stroke-width="11"/><use href="#bo" fill="none" stroke="#ffffff" stroke-opacity="0.25" stroke-width="3"/></g>
<path d="M85,65.6C82,95.6 74,130.6 67.5,160.6C61.5,190.6 57.5,215.6 51.5,235" fill="none" stroke="#27272b" stroke-width="3.3" stroke-linecap="round"/>
<path d="M51.5,235C42,266 27,300 14.5,319.6L8,327" fill="none" stroke="#2a2a30" stroke-width="1.3" stroke-linecap="round"/>
<circle cx="85.3" cy="63.8" r="6.6" fill="#1d1d22"/>
<circle cx="85.3" cy="63.8" r="3.6" fill="#2e2e36"/>
<text x="88.5" y="159.4" font-family="'Liberation Sans',sans-serif" font-weight="700" font-size="6.3" fill="#ffffff" text-anchor="middle" textLength="48" lengthAdjust="spacingAndGlyphs">SURFBOARD</text>
<text transform="translate(88.5,160) scale(1,-1)" x="0" y="0" font-family="'Liberation Sans',sans-serif" font-weight="700" font-size="6.3" fill="#1a1030" text-anchor="middle" textLength="48" lengthAdjust="spacingAndGlyphs">SURFBOARD</text>
</g>
</g>
<g transform="translate(290.00,123.20) scale(0.8836)">
<path d="M-9.5,322.6C-14,318.6 -27,313.2 -32.5,314.6C-36.8,316 -36.6,323.5 -33,326.6C-29.5,328.8 -20,328 -14,325.8C-11.5,324.9 -10.2,323.8 -9.5,322.6Z" fill="none" stroke="#0c0c0e" stroke-width="4.3" stroke-linejoin="round"/>
<path d="M-9,322.5C-5,324.5 0,326.3 4,326.3L7,326C10,323 13,318.5 16.5,313.5" fill="none" stroke="#151517" stroke-width="1.5" stroke-linecap="round"/>
<g clip-path="url(#bc)">
<rect x="-2" y="-2" width="172" height="335" fill="#25225a"/>
<path d="M93.2,-15.4C94.3,-6.1 98.3,-5.7 100.6,-19.9C101.1,-5.0 105.5,-4.1 108.2,-13.8C107.2,-1.1 108.7,-0.7 111.1,-15.0C109.8,0.4 111.9,1.1 116.2,-21.7C113.3,0.2 115.0,0.8 117.3,-9.0C116.9,-1.6 119.4,-0.5 123.5,-16.3C120.2,4.2 122.5,5.4 125.8,-5.6C124.1,6.2 126.7,7.7 130.5,-3.6C128.8,6.2 130.6,7.4 135.5,-7.6C130.9,10.9 132.3,11.9 138.4,-6.4C134.2,13.1 138.0,16.3 143.7,4.8C141.8,13.9 145.0,17.1 153.6,-0.9C144.2,24.1 145.3,25.4 152.1,10.6C149.1,25.4 155.2,33.7 161.8,28.0C158.3,35.7 159.3,37.4 164.0,30.4C158.8,40.6 159.6,42.0 167.2,30.2C162.3,41.0 164.6,45.1 169.1,40.8C165.1,50.9 168.3,58.1 178.9,48.5C170.7,60.0 171.5,62.0 178.4,54.6C170.2,68.9 173.3,78.1 182.9,72.9C178.3,78.8 179.2,82.2 187.2,76.5C176.2,87.3 176.9,90.0 184.0,85.2C176.9,92.0 177.4,94.2 186.2,88.1C179.5,94.5 180.1,97.4 187.4,93.2C179.7,100.8 180.7,106.2 187.5,104.0C181.9,109.6 182.8,115.6 190.4,113.9C182.9,118.5 183.2,120.9 199.7,114.1C185.7,122.2 186.3,127.0 191.4,126.8C184.9,132.0 185.5,140.1 196.1,140.5C186.0,144.5 186.2,149.5 195.1,149.9C185.8,154.2 185.9,163.4 192.5,166.6C187.3,167.5 187.3,170.3 201.5,172.0C187.3,172.6 187.2,176.9 194.6,179.3C184.1,179.5 183.9,184.0 193.0,187.4C185.5,187.8 184.9,193.6 194.1,198.4C183.2,196.3 182.7,200.1 193.7,205.5C181.8,201.8 181.4,203.9 194.2,209.9C181.4,205.5 181.0,207.9 193.1,214.4C181.0,211.1 179.8,217.3 190.1,225.6C180.4,222.3 178.9,228.3 185.9,235.7C179.1,232.4 178.0,236.1 182.8,241.5C177.3,238.0 176.6,240.1 180.2,244.0C175.9,241.8 174.7,245.3 178.9,250.8C173.5,247.9 171.6,252.8 175.4,259.1C169.4,255.4 167.1,260.8 171.3,268.8C165.8,267.1 160.9,276.3 162.8,285.0C156.8,277.6 154.8,280.7 161.9,295.3C154.7,285.3 152.2,288.9 156.5,300.2C151.1,291.3 149.7,293.1 153.7,303.0C148.5,294.5 146.5,296.9 148.5,303.7C145.5,299.6 143.3,302.0 146.5,312.4C139.9,297.7 138.6,299.1 145.1,317.8C138.0,302.8 134.8,305.8 141.0,328.7C131.4,305.1 127.0,308.5 129.5,324.7C124.9,310.0 123.3,311.1 126.7,327.9C123.2,316.4 121.2,317.6 123.2,329.9C119.0,315.6 116.0,317.1 118.3,335.2C113.5,317.9 109.2,319.7 109.2,331.6C106.6,322.0 102.7,323.1 102.4,335.1C100.9,327.0 98.5,327.5 98.2,334.5C96.2,321.6 92.8,322.0 92.3,342.5C90.7,328.7 87.0,328.8 85.6,336.4C83.9,323.6 78.2,323.1 75.0,342.1C74.1,325.0 68.0,323.4 64.7,332.2C65.6,322.8 64.5,322.4 62.2,335.0C62.0,324.0 56.8,321.6 52.4,333.4C55.3,315.2 53.1,313.9 48.6,329.1C49.7,316.1 44.5,312.5 40.8,317.9C43.7,305.5 41.6,303.8 35.6,319.0C39.5,302.8 36.0,299.5 27.5,317.0C33.5,298.6 30.9,295.7 24.3,307.6C28.5,295.5 26.2,292.8 19.2,304.6C26.3,289.4 25.8,288.7 17.4,304.8C24.2,288.1 21.5,284.3 16.1,290.8C19.9,281.6 17.5,278.0 11.1,285.8C15.9,273.4 11.8,265.9 0.6,275.9C9.3,263.3 7.9,260.4 -1.0,269.2C5.6,255.8 0.9,243.9 -10.8,248.6C-2.4,239.5 -3.9,234.7 -15.6,241.4C-5.1,231.8 -6.3,227.2 -12.3,229.2C-5.5,221.9 -7.1,214.2 -13.8,214.6C-7.4,208.9 -8.5,201.8 -16.8,202.2C-9.7,197.2 -10.4,190.2 -19.9,189.9C-9.9,186.5 -10.1,182.9 -22.4,183.8C-11.4,180.6 -11.6,176.8 -21.6,176.5C-11.1,174.5 -11.2,171.5 -18.3,170.9C-14.8,169.7 -14.8,166.6 -19.3,165.4C-14.3,162.9 -14.2,156.4 -20.4,153.6C-13.7,153.6 -13.6,151.1 -21.7,149.1C-13.8,149.1 -13.6,145.7 -18.5,143.5C-14.0,140.2 -13.0,128.2 -20.6,121.0C-11.8,122.3 -11.0,115.6 -15.4,110.8C-10.5,112.1 -9.9,108.2 -14.7,103.9C-10.0,105.3 -9.4,101.6 -16.3,95.5C-8.0,100.0 -7.4,97.2 -12.1,92.7C-5.2,95.7 -4.0,90.5 -10.7,82.8C-2.8,87.7 -1.6,83.3 -11.3,72.2C-3.4,78.2 -2.3,74.5 -6.9,68.0C0.1,74.4 0.7,72.6 -10.7,59.5C0.3,70.3 1.2,67.9 -4.6,60.0C3.6,65.0 7.4,55.9 1.3,42.4C7.8,49.9 9.4,46.7 3.9,36.4C14.3,45.8 20.8,35.4 17.1,19.7C22.4,28.3 24.6,25.5 20.5,13.3C26.1,22.5 29.3,18.9 27.3,9.5C31.8,18.3 34.2,16.0 31.4,5.1C35.4,13.0 38.2,10.6 34.1,-6.5C42.0,12.6 46.8,9.2 45.6,-3.6C48.3,4.4 50.2,3.3 48.4,-7.8C51.7,0.6 55.6,-1.2 53.2,-21.9C57.8,0.4 59.3,-0.2 57.0,-17.0C59.8,-3.3 61.4,-3.8 60.8,-11.8C64.2,2.2 67.9,1.2 67.4,-15.2C69.6,-6.9 73.3,-7.6 74.1,-14.7C76.8,-2.2 82.4,-2.6 84.1,-22.8C86.1,-6.9 91.4,-6.8 93.2,-15.4Z" fill="#f4de1b"/>
<path d="M146.5,292.5L158,294L160,333L112,333L114,321.5L140,322Z" fill="#29265a"/><path d="M153,294.5L157.5,295L155.5,327L151.5,324Z" fill="#3b3870"/>
<path d="M87.4,2.9C87.7,13.0 88.8,13.0 89.4,1.2C90.4,14.3 94.2,14.9 96.7,-5.9C95.6,23.2 97.4,23.6 100.0,-1.6C98.8,21.2 100.3,21.7 102.5,4.6C101.4,24.2 103.6,25.1 108.8,-10.5C106.0,18.8 108.4,19.9 110.7,10.8C109.1,26.4 111.2,27.5 115.0,10.8C114.0,21.6 116.6,23.2 120.1,11.5C116.4,32.0 118.0,33.2 124.2,9.9C121.1,25.9 122.8,27.2 127.2,13.1C123.0,34.7 126.6,37.8 133.5,21.2C130.0,33.3 130.8,34.1 139.9,8.3C129.5,41.5 131.1,43.2 141.7,16.5C133.7,44.4 138.4,49.9 145.1,40.8C142.9,48.2 145.2,51.3 152.3,40.2C146.4,52.4 147.3,53.7 154.9,40.5C146.6,58.4 148.8,61.8 162.7,41.3C149.5,65.6 151.8,69.6 163.1,55.8C154.1,70.1 155.4,72.4 164.8,61.1C153.6,76.9 154.4,78.4 165.0,65.7C155.7,79.2 157.2,82.2 170.0,68.8C160.3,81.9 161.8,85.4 170.1,78.4C161.2,89.6 162.8,93.6 171.7,87.1C163.6,95.5 164.3,97.3 174.2,89.4C167.1,97.8 168.8,102.8 176.7,99.1C165.8,108.8 166.9,112.6 179.5,106.0C169.1,114.1 170.0,117.5 181.4,112.4C174.3,117.0 174.7,118.6 181.1,115.8C170.5,122.7 171.3,126.2 181.6,122.8C175.5,127.4 176.5,132.3 183.1,131.7C172.5,136.6 173.0,139.9 183.4,138.1C179.1,141.2 179.8,146.6 188.6,146.8C177.7,150.5 178.1,155.3 185.3,156.2C180.3,157.4 180.4,159.5 190.6,159.6C180.6,161.9 180.7,166.6 187.5,168.3C179.5,169.7 179.2,174.9 188.2,177.8C177.3,177.1 177.2,179.0 184.6,180.9C178.4,180.7 178.2,182.9 191.2,186.3C174.4,184.4 173.9,188.4 186.7,193.4C175.6,191.6 174.9,195.6 186.4,201.2C175.1,198.4 174.4,201.8 183.2,206.8C175.9,205.0 175.0,208.5 186.2,215.4C174.4,210.3 173.8,212.5 181.6,217.7C170.9,213.2 169.8,216.9 186.1,228.8C169.3,220.8 167.0,227.4 172.7,234.8C167.6,233.1 165.3,238.7 172.9,248.6C159.6,236.6 158.9,238.1 170.3,250.6C159.4,241.1 157.8,244.3 168.5,258.1C159.8,249.4 158.6,251.7 161.9,256.9C154.3,249.6 152.3,253.0 163.5,270.5C152.0,257.2 149.3,261.4 156.3,275.1C147.8,263.5 146.0,266.1 156.7,286.4C145.8,268.6 144.8,269.9 149.1,278.7C145.2,272.8 143.9,274.4 147.8,283.1C140.0,270.3 137.7,273.0 145.8,293.0C137.2,275.6 136.1,276.9 143.7,295.5C136.9,281.8 135.2,283.5 138.8,294.4C131.9,278.9 130.5,280.3 135.2,294.5C129.6,282.9 126.6,285.5 132.5,307.8C124.5,287.7 120.7,290.6 125.1,313.8C119.2,295.0 116.5,296.8 117.8,308.0C114.9,297.0 113.3,297.9 116.3,316.5C111.2,293.3 109.4,294.2 113.3,320.9C109.4,302.0 107.5,302.9 108.9,317.7C104.9,295.8 102.6,296.7 103.9,315.6C101.9,301.6 100.7,302.0 102.1,321.0C100.1,304.0 99.0,304.3 100.6,327.7C95.8,302.2 88.3,303.2 86.2,317.1C86.0,302.5 85.0,302.5 84.4,319.5C83.8,303.7 81.2,303.4 79.4,323.4C79.9,300.2 78.1,299.9 75.1,333.1C77.1,299.8 75.9,299.5 74.1,316.1C73.9,304.4 70.4,303.2 67.9,313.2C68.6,303.2 66.8,302.5 64.7,312.1C65.7,299.4 63.1,298.2 58.1,319.6C60.3,301.2 56.8,299.1 53.5,307.6C54.9,292.7 49.6,288.8 42.2,305.3C46.3,290.4 44.8,289.1 39.6,302.3C45.5,283.1 43.9,281.6 35.5,301.9C42.4,280.5 39.7,277.8 34.2,287.9C37.2,278.3 35.1,276.0 29.0,286.4C33.5,273.8 30.8,270.4 24.2,279.6C31.4,265.0 30.1,263.2 22.6,274.7C27.8,263.7 25.7,260.7 14.4,275.8C24.4,259.4 23.4,257.7 9.1,277.0C21.6,257.2 19.6,253.8 9.3,265.0C20.8,249.4 19.8,247.7 4.3,265.5C14.8,251.1 13.2,248.0 7.6,252.6C13.9,241.9 10.4,234.1 -0.4,239.7C10.0,229.7 9.0,227.1 -1.2,233.9C8.3,224.0 6.3,218.0 -7.5,224.2C4.5,216.2 4.0,214.7 -4.8,219.3C5.0,212.4 4.2,209.4 -16.1,218.7C-0.1,209.7 -0.5,207.8 -6.9,210.1C1.2,204.3 0.1,199.1 -13.1,202.1C0.8,196.3 0.4,194.2 -11.7,197.4C-3.8,193.8 -4.3,190.8 -12.0,191.8C0.2,187.6 -0.2,184.9 -11.3,186.4C-5.7,184.2 -6.0,181.4 -10.7,181.2C-5.1,179.1 -5.3,175.6 -12.3,175.1C-2.8,173.4 -2.9,171.0 -11.6,170.7C-2.0,168.9 -2.0,165.5 -12.5,164.3C-5.5,161.8 -5.1,153.4 -14.5,148.9C-3.0,149.6 -2.6,145.9 -16.7,141.3C-2.7,143.7 -2.3,140.8 -11.2,137.3C-3.5,138.8 -3.2,136.8 -12.2,133.1C0.4,136.4 0.7,134.1 -9.7,129.4C2.1,132.3 3.0,127.9 -9.3,120.6C-0.3,123.8 0.3,120.9 -5.5,116.8C4.9,121.0 5.7,117.7 -7.1,108.7C3.3,113.0 4.8,107.6 -3.2,99.6C5.5,105.2 6.1,103.4 -4.4,94.6C6.5,102.3 7.2,100.3 -9.0,86.1C9.2,100.6 9.7,99.3 -1.3,89.2C8.2,96.4 9.1,94.0 -0.2,84.2C11.3,94.1 12.2,92.0 1.8,80.7C10.9,88.4 12.3,85.2 -3.1,66.8C12.7,83.5 13.4,82.1 7.4,74.6C17.0,83.5 18.8,79.7 11.6,68.3C15.4,72.2 16.4,70.3 12.6,64.1C20.8,73.7 22.3,70.9 14.3,57.3C21.9,66.6 23.8,63.5 14.5,46.2C27.0,65.7 27.9,64.3 17.3,44.9C25.4,56.1 28.1,52.2 24.3,41.7C33.3,54.2 38.1,48.1 31.6,25.7C39.0,43.1 40.1,42.0 31.7,18.2C40.4,39.1 42.4,37.0 38.1,21.6C44.1,35.0 47.4,31.9 45.2,19.2C51.9,37.0 55.7,34.0 52.7,14.0C57.8,32.4 60.3,30.8 55.3,-0.1C60.0,21.3 61.5,20.4 59.1,2.8C64.5,21.0 70.8,18.2 70.2,-10.5C73.9,15.5 77.5,14.5 77.1,-14.2C79.3,17.7 80.4,17.4 79.4,-16.5C82.3,19.5 86.3,19.1 87.4,2.9Z" fill="#e6344a"/>
<path d="M87.8,28.3C88.5,49.5 92.3,50.0 95.8,22.8C94.7,45.3 96.7,45.8 100.0,21.8C97.8,47.4 99.3,47.9 101.5,34.4C100.3,46.7 101.3,47.1 103.9,31.9C101.6,51.1 102.9,51.7 105.8,37.4C104.0,55.7 107.7,57.7 114.1,35.7C110.3,56.2 112.6,57.8 121.3,29.0C115.4,53.3 117.2,54.7 123.4,36.6C118.3,56.2 120.1,57.8 123.7,49.6C119.4,65.1 121.5,67.3 128.8,51.2C122.9,67.9 124.3,69.5 130.8,55.8C125.4,70.4 126.9,72.2 134.1,58.4C129.2,70.6 130.6,72.5 136.9,61.8C131.9,73.2 133.2,75.2 139.2,65.9C131.6,80.7 132.7,82.4 146.9,59.8C136.0,80.4 138.1,83.9 145.7,74.9C138.6,88.2 140.9,93.1 149.4,85.3C140.5,97.9 141.9,101.3 151.0,93.1C146.2,98.7 146.5,99.7 153.8,92.6C143.0,105.1 143.9,107.7 157.4,96.4C147.8,106.3 148.6,108.5 161.7,98.1C145.2,113.7 146.2,117.0 158.7,108.9C147.2,118.7 147.9,121.5 158.4,115.7C148.8,123.4 149.5,127.0 161.1,121.8C148.8,130.0 149.4,133.6 167.1,126.8C149.5,135.6 149.9,137.8 167.4,131.6C151.0,138.8 151.3,140.8 162.4,137.6C155.8,140.6 156.0,142.7 165.7,140.5C151.9,146.1 152.3,150.4 165.9,149.3C157.3,152.3 157.5,156.4 166.3,156.9C157.1,158.4 157.1,160.3 166.7,160.4C152.6,163.5 152.5,171.7 170.3,176.9C155.5,177.4 155.0,184.9 164.6,190.4C152.0,187.2 151.8,189.5 163.8,194.9C155.3,192.2 155.1,193.9 161.6,197.2C155.6,196.6 154.7,202.0 164.7,209.5C154.6,205.6 153.7,210.2 164.2,219.2C147.5,209.3 146.5,213.2 157.6,223.8C146.0,215.7 145.0,219.0 157.2,231.6C143.8,220.4 142.9,223.0 161.3,242.9C145.1,227.3 144.4,229.1 152.5,238.8C142.4,228.5 141.8,229.9 153.0,243.5C143.5,234.0 142.2,236.9 155.3,255.2C142.5,240.7 140.6,244.4 150.1,260.4C139.2,245.2 138.5,246.4 151.5,266.9C136.2,245.2 134.6,247.8 141.9,262.1C133.8,249.7 132.4,251.7 139.3,266.1C133.8,256.8 132.9,258.0 137.3,267.6C129.9,255.3 128.0,257.6 133.7,272.1C127.4,260.2 125.8,262.0 129.4,272.6C125.9,266.5 123.9,268.4 129.5,286.1C122.6,269.2 121.2,270.4 125.8,285.9C117.4,269.5 110.2,274.0 110.7,289.6C105.3,268.9 102.3,270.1 104.9,292.8C101.1,273.3 99.2,273.9 100.7,290.6C98.8,279.0 97.8,279.3 99.1,293.3C96.2,276.2 93.4,276.8 94.3,302.6C91.0,273.0 87.4,273.3 86.5,301.1C84.8,278.7 80.7,278.6 78.0,311.0C78.6,283.4 76.7,283.2 75.0,299.0C76.1,274.4 74.1,274.1 71.1,297.1C71.7,275.1 66.9,273.7 60.8,298.7C65.0,271.3 63.3,270.6 54.9,308.8C61.4,269.8 57.7,267.8 49.3,293.1C56.5,265.3 55.4,264.5 49.5,282.7C53.5,265.6 50.9,263.6 39.3,293.3C47.8,268.0 47.0,267.2 41.3,281.5C45.5,268.7 44.1,267.4 39.1,278.1C44.0,264.5 42.8,263.3 34.5,281.2C42.5,260.4 40.7,258.3 32.5,273.6C38.8,258.1 36.7,255.4 27.4,270.5C36.0,251.5 33.3,247.4 20.5,264.7C31.0,247.0 29.9,245.0 22.5,254.5C31.0,240.2 29.3,236.9 17.8,249.6C25.6,236.7 23.1,230.8 7.1,244.4C22.7,224.8 20.2,216.7 -1.2,229.5C16.5,213.4 15.0,206.5 7.3,208.3C17.7,201.6 17.3,199.4 1.9,206.5C19.2,195.3 18.4,188.5 6.4,190.0C17.0,184.7 16.6,179.2 4.9,179.4C13.2,176.8 13.1,173.4 -5.3,174.2C16.6,170.4 16.5,165.8 -2.5,164.0C16.3,163.2 16.4,160.2 4.5,158.3C13.7,158.0 13.9,154.9 -4.7,151.1C17.1,153.1 17.3,149.5 -0.6,144.0C12.3,145.4 12.8,140.4 -1.2,133.5C13.3,137.0 14.1,131.9 5.8,126.1C19.4,132.0 19.8,129.9 9.2,123.3C16.6,126.1 17.4,122.6 6.7,114.5C17.1,118.9 18.7,113.2 7.2,101.5C23.1,112.8 24.4,108.8 10.2,93.5C22.7,104.0 23.9,100.8 16.7,91.5C23.2,98.1 23.7,97.0 15.1,86.8C25.6,96.9 27.2,93.3 15.9,77.0C28.0,91.2 29.1,88.9 15.0,68.0C31.5,89.3 33.0,86.5 21.0,66.2C31.8,80.7 34.1,77.0 27.0,61.9C39.3,81.5 41.5,78.4 35.0,62.7C40.8,73.7 41.6,72.7 27.2,40.7C41.6,68.3 44.9,64.5 38.5,43.6C47.5,64.2 50.0,61.7 43.0,36.8C52.8,65.3 54.2,64.1 48.9,44.3C52.4,54.2 53.8,53.2 50.3,38.5C55.4,55.4 56.8,54.4 52.6,35.4C57.7,52.6 59.8,51.3 57.6,36.9C64.8,53.2 75.3,49.5 77.4,20.8C79.7,53.1 81.7,52.9 81.7,21.5C83.2,47.7 86.3,47.7 87.8,28.3Z" fill="#1e1b59"/>
<path d="M90.8,60.2C91.3,73.4 94.1,73.7 97.1,50.0C96.3,75.0 100.3,75.9 104.6,58.2C103.3,75.8 107.7,77.6 113.6,60.5C110.6,79.3 115.2,82.1 124.7,61.1C116.9,84.6 118.7,85.9 123.8,75.3C120.1,86.1 121.8,87.6 127.4,77.1C124.4,85.4 126.2,87.2 134.4,73.0C125.8,92.0 128.2,94.7 136.5,83.1C131.3,92.5 132.1,93.5 137.7,85.5C130.0,98.7 131.3,100.6 138.5,91.5C135.6,97.0 136.8,99.0 142.9,92.4C137.7,100.5 139.1,102.9 147.4,94.7C140.0,105.3 142.0,109.4 152.0,101.7C142.7,112.0 143.8,114.8 154.2,107.2C143.2,117.2 143.7,118.6 154.5,110.5C143.2,120.4 143.9,122.4 156.5,114.0C147.1,121.9 147.8,124.5 152.8,122.3C146.4,128.4 147.6,133.5 159.6,129.6C147.6,136.3 148.1,139.1 155.5,137.1C146.4,142.2 147.0,146.3 159.9,144.1C150.1,149.0 150.5,155.3 162.9,156.1C148.7,159.1 148.7,163.3 158.3,165.0C151.8,167.1 151.6,173.1 166.5,177.4C152.0,177.3 151.4,183.8 161.3,189.3C150.7,187.0 150.1,190.5 156.8,194.6C149.9,193.9 148.6,199.8 158.5,208.0C143.6,199.8 143.0,202.0 159.6,214.3C142.8,204.1 141.7,207.3 151.0,216.2C142.9,211.0 141.7,214.2 149.4,222.8C143.5,218.7 142.1,221.8 147.9,229.4C136.6,218.3 135.8,219.9 146.1,232.6C134.8,223.1 130.9,229.3 138.8,245.6C129.3,232.7 127.2,235.3 135.9,253.2C126.7,239.1 124.0,241.9 132.4,263.0C121.4,241.2 119.4,242.9 124.0,256.5C120.6,249.9 119.0,251.2 123.5,265.5C116.6,248.7 114.8,249.9 119.7,267.5C114.4,252.2 113.4,252.8 115.2,260.2C112.1,251.6 110.5,252.5 114.0,268.0C108.8,256.0 103.0,258.2 102.3,266.7C99.2,252.3 96.5,252.9 96.9,267.3C95.2,254.4 93.6,254.6 94.1,269.9C92.1,254.5 89.1,254.7 88.3,268.9C87.1,255.1 84.1,255.0 82.4,274.3C82.4,261.6 81.0,261.5 79.9,269.9C79.2,259.5 75.0,258.7 71.9,269.8C73.8,252.8 72.3,252.3 68.7,269.9C70.3,254.0 67.3,252.8 62.3,269.5C66.0,249.0 63.0,247.4 56.0,266.4C59.1,253.8 57.3,252.7 52.7,264.0C56.1,252.0 54.5,250.8 48.8,263.8C55.3,245.7 54.1,244.8 49.8,253.8C51.7,247.1 49.9,245.4 46.3,251.1C51.4,239.1 50.3,238.0 41.1,254.9C49.4,237.1 47.8,235.4 40.4,246.9C44.4,237.2 41.6,233.6 32.0,245.2C42.8,228.3 41.9,226.9 31.6,240.1C38.2,229.6 36.6,226.9 31.8,231.2C38.0,222.6 36.8,220.5 25.9,231.2C33.3,221.3 31.5,217.3 23.6,222.6C31.2,213.5 29.5,208.6 21.7,212.3C30.4,204.9 29.7,202.6 14.6,211.4C30.4,200.1 29.6,197.0 15.4,203.6C24.8,197.3 24.1,194.0 18.4,195.4C23.1,191.8 22.5,187.7 15.2,188.7C21.9,185.4 21.5,182.3 6.0,185.3C24.0,179.9 23.8,177.6 10.9,179.3C22.2,175.8 22.0,171.9 6.4,172.1C22.8,167.9 22.9,159.4 13.5,155.6C25.4,155.6 25.7,151.4 16.3,147.8C24.2,148.3 24.7,144.4 14.6,139.6C27.5,143.3 27.9,141.2 7.6,132.1C27.6,139.0 28.3,135.4 20.1,129.9C25.7,131.6 26.4,128.6 18.8,122.7C29.7,127.8 30.8,123.8 20.1,114.1C29.0,120.3 29.5,119.0 24.3,114.2C30.8,118.8 31.4,117.3 23.6,109.9C30.4,113.7 32.3,109.2 25.6,99.9C36.4,110.3 37.4,108.3 21.1,88.4C36.7,105.2 38.0,102.9 32.0,93.7C39.3,101.8 40.9,99.3 34.2,88.0C43.1,100.2 43.8,99.2 35.9,86.3C41.6,93.8 42.9,92.1 35.9,79.2C43.9,90.3 46.2,87.6 40.6,74.3C48.7,87.4 51.5,84.8 43.6,63.4C55.6,86.6 60.2,83.3 55.2,60.8C62.2,82.4 63.2,81.8 58.3,63.4C62.4,76.2 63.6,75.5 61.4,65.0C66.0,77.9 69.6,76.4 68.2,61.0C71.7,76.6 73.8,76.0 72.0,58.7C74.2,72.3 74.9,72.2 71.6,44.9C76.2,71.4 79.8,70.8 80.1,57.8C82.9,73.6 88.5,73.5 90.8,60.2Z" fill="#1169b5"/>
<path d="M92.6,70.6C92.8,86.1 95.1,86.4 97.0,73.4C96.9,84.7 99.6,85.3 101.9,76.0C101.4,85.6 103.8,86.5 106.2,78.6C105.3,88.3 108.1,89.6 111.5,80.7C109.7,91.7 112.7,93.6 116.4,86.4C113.4,96.6 114.9,97.7 119.3,88.4C116.5,97.0 118.1,98.4 122.9,89.5C120.4,96.7 122.0,98.2 129.2,86.0C120.8,103.1 121.7,104.1 127.7,94.2C124.7,102.0 127.2,105.2 131.4,101.2C127.5,108.8 129.2,111.4 136.2,104.2C130.5,113.1 132.1,116.0 142.1,107.0C132.7,117.6 133.4,118.9 139.4,113.5C133.6,120.7 134.9,123.7 141.0,120.0C138.0,123.5 138.8,125.6 149.0,119.0C137.4,129.4 138.7,133.7 149.6,129.2C140.3,136.2 141.3,140.6 150.8,138.2C141.6,142.8 142.0,145.1 152.3,142.4C143.7,146.3 144.1,149.3 154.3,147.9C143.4,152.1 143.8,156.9 151.6,157.8C141.9,159.9 142.0,163.9 149.4,165.5C142.3,167.2 142.0,172.8 154.5,177.3C141.9,175.7 141.6,178.8 156.5,184.5C141.8,181.8 140.9,186.9 153.0,194.7C139.7,190.4 138.2,196.1 145.0,203.1C139.4,201.0 137.8,205.3 141.6,210.6C135.6,206.7 134.2,209.7 140.6,218.0C131.6,212.4 127.3,219.4 132.3,232.0C124.7,221.1 123.5,222.5 128.4,232.2C123.9,226.7 121.3,229.3 125.6,241.0C119.6,231.6 116.3,234.3 118.6,244.7C114.8,236.1 113.3,237.1 117.7,252.8C111.2,233.1 110.6,233.4 113.7,244.0C111.3,237.6 110.2,238.2 112.7,248.5C109.1,236.6 108.3,237.1 110.4,246.6C107.1,235.4 105.9,236.0 108.4,249.2C105.2,240.3 101.8,241.6 102.4,253.7C100.0,241.6 98.2,242.0 98.6,250.9C96.4,242.0 92.8,242.5 92.0,253.3C91.2,240.9 90.0,241.0 89.6,252.8C88.9,242.2 86.9,242.1 85.8,254.6C85.5,238.6 83.0,238.3 80.7,255.0C81.4,242.3 80.0,242.1 77.8,256.9C79.0,238.4 76.2,237.6 73.0,249.2C73.7,241.3 71.7,240.5 67.7,254.6C70.2,238.1 66.7,236.1 62.0,246.0C64.2,235.4 61.1,233.0 57.0,239.4C60.0,229.5 57.3,227.0 52.9,233.1C54.2,228.2 51.9,225.5 47.7,230.2C52.3,221.8 51.2,220.3 44.4,229.4C49.2,221.6 48.5,220.5 44.4,225.5C50.3,215.9 48.8,213.6 42.0,220.4C48.6,211.7 47.9,210.4 40.4,218.2C45.4,211.5 44.5,209.6 37.1,216.1C45.5,206.8 44.8,205.3 38.4,210.5C43.9,204.7 43.3,203.3 33.8,210.8C43.2,201.4 42.1,198.4 28.1,207.2C39.3,198.4 38.7,196.5 32.0,199.9C37.8,193.8 36.2,187.2 26.5,188.7C36.3,183.4 35.7,179.6 26.6,180.8C33.2,177.3 32.8,172.7 29.1,171.7C32.6,170.4 32.5,168.2 24.7,168.0C33.6,166.5 33.6,163.9 28.4,162.9C34.9,161.9 35.0,158.9 24.3,156.7C34.1,156.1 34.5,151.3 25.6,147.4C35.7,149.4 35.9,147.8 29.1,145.2C35.2,146.4 35.5,144.5 29.0,141.4C34.9,142.2 35.6,138.5 30.9,134.7C39.2,137.1 40.5,132.4 33.2,125.6C40.0,129.1 41.0,126.1 33.2,118.5C43.3,125.6 44.4,123.0 37.3,115.2C42.9,119.1 44.3,116.2 39.4,109.4C45.9,115.0 47.5,112.2 40.8,101.9C48.2,110.2 49.6,108.1 45.6,100.9C50.4,104.0 54.9,98.7 53.8,91.8C57.7,97.1 60.5,94.6 57.4,83.6C62.5,93.9 64.9,92.2 61.6,79.1C66.2,91.9 67.3,91.3 64.6,80.5C68.5,88.8 72.4,86.9 72.5,79.9C74.5,85.9 76.7,85.1 75.2,69.7C79.5,86.6 84.9,85.7 86.4,73.8C87.1,84.4 88.1,84.4 88.3,76.1C89.2,84.9 91.4,85.0 92.6,70.6Z" fill="#108ecb"/>
<path d="M91.9,84.8C92.1,92.3 93.7,92.4 94.7,86.8C95.0,92.2 97.0,92.7 99.0,82.8C98.4,94.4 101.0,95.2 103.4,87.3C103.0,96.5 106.9,98.4 110.8,90.2C109.4,97.6 111.6,99.0 114.3,93.8C113.1,100.5 115.9,102.9 119.5,98.0C117.4,103.7 118.4,104.7 121.7,99.4C119.2,105.6 120.3,106.9 123.6,102.3C121.2,107.3 121.9,108.1 126.6,101.0C122.0,110.6 124.0,113.3 130.5,106.3C124.8,115.7 126.5,118.4 132.5,113.0C129.2,118.1 130.5,120.4 133.5,118.6C129.3,123.8 130.3,125.9 134.9,122.9C133.2,125.3 134.0,127.4 136.6,126.3C133.6,129.8 134.6,132.7 138.7,131.4C134.6,134.9 135.4,137.5 146.0,132.9C137.8,138.9 138.8,143.6 143.7,143.6C137.9,146.3 138.2,148.3 147.2,146.5C137.4,150.1 137.7,152.8 147.3,152.0C138.2,154.4 138.4,156.7 144.0,156.9C138.2,159.1 138.3,163.9 143.8,165.8C138.5,166.0 138.5,167.4 149.5,169.1C137.4,169.1 137.1,173.1 143.1,176.0C136.6,175.1 136.4,177.2 143.7,180.3C138.0,179.4 137.5,181.9 143.8,185.5C135.6,182.8 135.1,184.8 141.4,188.6C136.9,187.3 136.2,189.7 140.0,192.8C135.9,190.9 135.5,192.2 138.7,194.8C132.9,191.7 132.3,193.5 137.3,197.9C131.9,194.7 131.2,196.5 135.6,201.0C130.2,198.2 128.5,201.8 137.1,212.4C129.8,205.7 128.9,207.3 132.3,212.1C127.7,208.0 126.4,210.2 130.2,216.4C125.4,211.2 124.3,212.9 127.6,218.8C122.2,214.4 118.4,218.9 119.7,225.8C117.5,222.2 116.6,223.0 119.7,230.8C115.6,222.7 114.5,223.6 116.8,230.2C114.5,225.2 114.0,225.6 115.2,229.3C112.9,225.2 111.3,226.4 113.6,235.3C110.8,228.6 109.5,229.4 110.7,235.4C107.2,226.1 105.3,227.2 108.7,244.1C104.2,231.2 100.3,232.7 99.5,237.2C98.1,233.9 95.3,234.5 95.2,245.8C93.7,233.0 91.9,233.2 91.6,242.3C90.6,234.8 88.4,234.9 87.6,242.7C86.6,230.8 83.0,230.4 80.9,238.4C79.9,233.6 75.7,232.3 72.8,238.6C74.2,230.0 73.0,229.4 69.0,244.0C72.4,227.6 70.7,226.7 67.3,235.9C69.7,225.1 67.6,223.8 62.7,234.7C66.4,223.3 65.3,222.5 61.3,231.0C63.7,223.9 62.5,222.9 59.7,228.1C62.3,221.6 61.8,221.1 58.3,228.2C61.2,220.2 59.4,218.4 55.1,224.6C58.0,217.5 56.3,215.5 49.7,224.3C55.9,213.4 54.8,211.9 50.5,216.8C52.4,212.6 50.8,210.1 47.0,213.3C50.7,207.0 49.0,204.0 42.3,209.1C47.6,202.9 46.6,200.9 40.9,205.0C46.6,198.8 45.5,196.0 35.0,202.6C43.1,195.6 42.2,193.1 37.7,194.9C41.8,190.8 40.7,187.0 36.2,187.7C43.0,183.6 42.5,181.3 35.5,183.2C40.9,180.0 40.3,176.8 35.7,176.9C38.9,175.0 38.5,171.8 32.2,171.8C40.6,169.4 40.4,166.4 32.9,165.8C37.6,164.4 37.6,160.9 31.8,159.4C40.8,159.1 40.9,156.7 32.7,154.8C38.7,153.5 39.5,147.4 29.9,141.9C39.2,144.6 39.4,143.2 33.7,140.3C41.8,142.9 42.2,141.0 33.8,136.3C42.1,139.5 42.6,137.5 37.3,133.8C42.8,136.3 43.2,135.0 36.7,130.4C44.8,133.5 46.5,128.9 39.1,120.6C47.6,127.0 48.4,125.2 43.1,119.4C48.0,121.3 50.9,116.1 49.3,111.0C52.6,114.1 53.8,112.4 49.5,104.9C55.2,111.8 56.8,109.7 54.3,103.8C58.3,109.2 59.8,107.6 56.3,99.2C59.9,103.7 62.5,101.3 61.9,96.8C64.5,101.1 66.6,99.5 64.9,91.9C68.0,99.1 69.7,98.0 68.0,90.0C71.1,97.4 73.8,96.0 73.0,87.9C74.9,93.3 76.7,92.6 76.3,86.0C78.2,95.6 79.2,95.3 78.3,86.3C80.6,92.2 84.9,91.4 86.0,81.3C87.4,90.0 90.6,90.0 91.9,84.8Z" fill="#179f4d"/>
<path d="M90.3,95.3C91.7,102.3 96.5,103.1 99.8,92.6C98.6,102.7 99.7,103.1 101.1,97.9C100.0,106.7 101.5,107.3 105.6,92.1C103.2,103.1 103.8,103.4 106.8,92.4C103.6,106.3 104.4,106.7 106.6,100.1C105.2,107.5 106.8,108.5 110.1,100.6C108.4,107.1 109.5,107.9 112.7,101.0C109.6,110.6 111.0,111.7 115.6,102.7C112.4,112.0 114.6,114.0 119.3,107.4C116.4,113.6 117.4,114.8 122.1,108.0C117.8,116.5 119.3,118.4 127.3,108.3C120.3,119.7 121.6,121.7 125.4,118.3C121.7,124.6 123.6,128.0 134.8,119.2C126.6,127.7 127.4,129.3 133.4,125.1C127.7,130.4 128.2,131.6 131.3,129.7C127.1,134.2 128.2,136.9 133.3,134.8C130.6,137.2 131.1,138.8 137.7,135.7C129.6,143.0 131.1,150.4 142.6,150.5C130.4,153.9 130.6,156.1 139.8,155.5C132.1,157.5 132.2,160.3 142.2,160.9C133.2,162.4 133.1,166.2 138.8,168.1C130.7,168.2 130.5,171.2 138.2,174.0C133.1,173.3 132.9,174.9 142.5,178.3C131.1,175.8 130.7,178.0 139.1,182.1C131.2,179.7 130.7,181.5 140.2,186.6C131.0,182.7 130.6,184.0 136.3,187.4C128.9,184.4 128.3,186.6 135.8,192.2C127.6,187.7 127.0,189.3 134.6,195.4C126.1,190.1 125.4,191.8 130.6,197.0C125.6,193.4 125.0,194.8 131.0,200.9C125.1,196.1 124.5,197.4 127.8,201.4C123.4,197.3 122.9,198.2 130.2,206.4C123.4,201.3 121.0,205.1 122.7,210.0C120.3,207.1 119.8,207.8 123.6,213.9C117.9,206.5 116.8,207.9 122.4,218.3C115.7,208.2 114.5,209.5 117.8,216.9C115.2,212.7 114.5,213.3 116.6,218.1C112.9,212.9 110.6,214.9 112.2,221.8C110.3,217.5 109.8,217.9 113.0,226.9C108.0,215.4 106.2,216.5 109.1,228.4C104.9,216.3 103.6,217.0 105.6,226.8C103.1,220.0 100.9,221.0 101.5,228.7C99.2,220.1 97.2,220.7 97.4,228.1C95.9,220.6 94.4,220.9 94.8,231.2C93.4,221.7 91.7,221.9 91.5,232.6C90.7,223.3 89.3,223.4 88.9,231.1C88.2,224.1 86.3,224.0 85.1,233.8C85.1,224.3 83.3,224.1 82.3,228.7C82.4,220.0 80.2,219.4 77.9,228.9C78.4,221.6 76.3,220.8 74.3,226.6C74.6,221.5 72.4,220.4 70.1,225.3C71.3,217.3 68.5,215.4 63.3,225.3C66.8,214.5 64.7,212.7 59.3,221.2C62.9,213.6 62.3,213.0 57.5,221.5C62.2,212.1 61.5,211.4 59.3,214.6C60.8,209.6 58.2,206.4 50.0,215.4C56.9,205.7 56.5,205.1 51.1,211.9C55.3,204.7 53.5,201.8 47.9,206.1C55.4,197.6 54.9,196.5 47.3,203.4C52.4,197.8 51.7,196.5 48.7,198.6C52.4,194.4 51.7,192.8 41.3,200.2C50.8,191.6 49.8,189.2 44.5,191.6C49.3,187.5 48.5,185.2 41.8,187.8C49.6,183.2 49.2,181.8 42.5,184.4C47.2,181.7 46.9,180.4 39.5,183.0C48.6,178.9 48.5,178.2 42.6,180.1C46.2,178.3 46.0,177.0 38.7,179.0C48.0,175.3 47.7,173.6 41.7,174.6C47.0,172.4 46.7,170.1 40.0,170.4C46.9,167.8 46.7,163.2 40.7,161.5C45.6,160.4 45.7,156.7 38.1,154.1C46.4,154.7 46.7,152.2 40.8,149.9C46.6,150.8 46.9,149.0 38.5,145.5C45.4,146.5 46.3,142.7 43.2,139.8C48.2,142.0 48.4,141.4 42.4,138.1C48.8,140.1 49.9,136.6 43.2,130.4C49.1,133.7 49.9,131.6 45.2,126.8C51.0,130.2 52.5,127.1 49.8,122.8C54.5,126.6 55.6,124.7 49.3,116.2C56.3,123.6 57.3,122.0 51.3,113.2C58.6,122.1 59.5,120.9 55.7,114.6C59.8,119.4 60.9,118.0 57.7,111.6C62.9,116.7 66.8,112.9 65.0,103.8C67.3,108.0 68.8,106.9 67.8,102.6C70.7,109.6 71.6,109.0 68.0,96.5C71.5,105.8 72.8,105.0 70.7,95.3C73.8,104.4 75.5,103.6 74.5,96.5C77.2,107.0 78.1,106.6 76.7,97.7C78.4,104.4 79.7,104.0 78.4,92.6C80.3,103.6 81.1,103.4 80.4,96.3C81.8,100.9 84.4,100.4 84.9,95.8C85.7,100.4 87.2,100.3 87.6,95.5C88.2,101.2 89.7,101.2 90.3,95.3Z" fill="#f6e416"/>
<path d="M91.2,108.1C91.7,115.9 93.3,116.0 94.4,106.1C94.4,117.1 96.5,117.5 98.3,110.1C97.4,117.9 98.1,118.0 100.1,107.3C99.2,115.0 100.2,115.4 101.7,109.9C100.9,116.0 102.3,116.5 104.5,109.7C102.8,117.9 103.8,118.4 106.2,111.7C103.9,120.5 105.0,121.2 108.5,112.3C106.9,120.0 109.7,122.2 113.4,117.4C110.6,123.8 111.3,124.6 114.0,120.4C112.7,124.6 114.6,126.7 119.0,122.0C114.4,129.7 115.6,131.4 119.7,127.5C116.0,132.7 116.7,133.9 121.1,129.9C119.1,132.9 119.9,134.5 123.6,131.9C120.3,135.7 121.1,137.2 127.0,133.2C119.7,140.1 120.7,142.6 125.7,140.6C121.3,144.7 122.2,148.0 130.5,145.9C124.5,149.5 125.1,152.5 132.4,151.8C125.7,153.8 125.8,154.8 128.8,154.5C125.5,155.7 125.7,157.2 131.4,156.9C124.8,158.5 124.9,160.6 128.8,161.1C124.0,161.7 124.0,162.9 132.6,163.7C125.2,163.8 125.2,165.0 135.0,166.3C125.4,166.0 125.3,167.9 130.4,169.5C124.4,169.4 124.0,172.3 134.5,176.8C123.4,174.0 122.9,176.4 126.7,179.1C122.3,177.6 121.9,179.0 127.3,182.5C122.8,180.7 122.3,182.4 126.1,185.6C120.5,182.7 119.7,184.7 125.7,190.4C119.3,185.8 118.8,186.8 122.9,191.0C119.0,188.4 118.0,190.3 121.1,194.6C117.6,191.8 116.5,193.6 121.1,200.6C115.9,194.8 115.0,196.1 118.2,201.6C114.7,198.3 112.6,200.6 115.4,207.9C111.4,201.6 110.0,202.8 111.1,206.7C108.4,202.6 106.4,204.1 107.4,209.4C104.5,205.7 100.4,207.7 100.7,218.0C98.2,206.9 96.5,207.3 97.0,217.1C95.5,206.5 94.5,206.6 94.8,215.2C94.0,208.4 93.0,208.5 93.0,217.0C92.1,208.8 90.3,208.8 89.6,215.0C89.2,208.8 87.7,208.6 86.7,214.3C86.1,207.6 82.7,206.6 80.3,212.2C80.8,207.0 79.2,206.3 77.0,211.9C77.3,206.7 74.5,204.9 72.2,207.6C74.2,200.2 71.9,198.1 65.7,207.2C70.3,198.3 69.6,197.5 64.2,205.5C68.2,197.4 66.5,195.2 61.3,200.4C66.7,192.7 65.9,191.5 61.5,195.8C63.5,192.7 62.7,191.2 59.7,193.5C63.0,189.0 61.8,186.5 56.3,189.7C60.9,184.6 59.7,181.1 55.7,181.9C59.3,179.5 59.0,178.5 53.2,181.0C58.4,177.1 57.6,173.6 51.0,174.3C56.6,171.7 56.2,169.0 49.6,169.2C56.2,166.3 56.1,161.2 52.1,159.2C58.1,159.1 58.2,157.7 52.2,156.4C57.6,156.6 57.7,154.9 52.5,153.1C57.5,152.8 58.3,148.3 49.5,142.6C60.2,146.8 60.8,144.6 54.2,139.7C59.0,141.8 59.7,139.7 54.9,135.2C61.5,138.8 62.8,135.8 60.2,131.8C63.1,134.0 63.9,132.6 57.5,124.7C65.5,132.2 67.1,129.8 63.6,123.2C68.5,129.4 69.4,128.3 64.0,118.8C70.1,127.7 71.2,126.4 66.6,116.6C71.5,124.9 72.3,124.1 68.4,114.9C72.5,122.1 73.8,121.1 71.8,114.7C75.6,122.7 77.0,121.8 74.5,112.7C77.4,118.6 79.7,117.3 79.4,112.5C80.9,116.5 82.3,115.9 81.6,109.1C83.9,116.8 86.3,116.2 86.3,106.0C87.5,115.6 88.7,115.5 88.8,108.0C89.5,114.7 90.8,114.6 91.2,108.1Z" fill="#ea672f"/>
<path d="M93.1,123.4C93.3,131.8 93.9,131.9 94.5,122.5C94.4,133.0 95.2,133.1 96.2,125.3C96.3,131.9 98.2,132.4 100.2,125.8C99.5,132.1 101.1,132.8 103.0,128.4C101.7,133.3 102.2,133.6 103.7,129.3C102.5,134.8 103.8,135.6 106.7,130.0C104.7,135.8 105.8,136.6 108.8,131.7C106.6,137.2 107.8,138.5 110.6,135.2C109.0,138.7 110.1,140.1 112.1,138.5C109.1,142.6 109.4,143.0 116.5,134.8C110.2,143.0 111.0,144.3 116.4,139.7C112.3,144.8 113.4,147.0 117.8,144.9C113.1,148.5 113.4,149.1 119.2,145.6C114.2,150.1 115.2,153.5 118.4,153.7C115.9,156.8 116.3,163.2 121.1,166.0C116.0,166.3 115.7,168.9 120.4,171.3C114.4,170.1 113.9,172.1 117.8,174.7C115.5,174.6 114.5,177.3 116.7,180.0C113.5,178.4 112.7,180.2 116.5,184.5C111.1,180.2 110.3,181.5 116.4,189.1C110.3,182.5 109.8,183.1 113.1,187.6C110.2,185.1 108.8,186.7 111.5,192.2C106.5,185.3 105.2,186.6 107.2,191.9C104.8,188.0 103.6,188.9 105.7,195.8C102.5,188.8 101.3,189.5 102.3,194.8C100.7,190.9 99.5,191.4 100.3,197.7C97.9,191.0 94.9,191.6 94.1,197.4C93.5,191.3 92.3,191.3 91.6,198.5C91.5,193.5 90.5,193.4 89.6,199.6C89.6,193.8 87.8,193.3 85.4,202.2C87.4,190.6 86.5,190.3 84.3,198.3C85.5,189.3 83.2,188.0 78.1,197.4C81.9,187.8 81.2,187.2 78.0,193.1C80.8,186.6 80.2,186.0 76.0,192.8C79.5,185.0 77.9,183.1 72.9,188.3C76.3,183.2 75.5,181.9 70.5,186.6C75.9,180.3 75.3,179.3 70.1,183.4C74.3,178.3 73.1,175.3 66.4,177.9C71.7,174.3 71.3,172.9 67.8,173.9C72.2,171.4 71.9,170.0 66.6,171.2C70.0,169.3 69.7,166.9 66.5,166.6C71.2,165.6 71.1,164.5 64.2,164.6C69.6,163.6 69.6,161.9 65.4,161.1C68.7,160.4 68.9,157.9 63.8,155.9C69.9,156.4 70.4,153.8 64.2,150.2C70.8,152.5 71.2,151.0 68.3,148.8C71.4,149.8 72.0,148.0 68.8,144.8C74.1,147.6 75.4,145.1 70.8,138.8C74.7,141.7 76.3,139.5 75.1,136.1C77.9,139.2 79.2,137.8 77.0,132.2C80.6,138.3 81.4,137.7 79.6,132.8C82.2,136.4 84.5,135.0 83.4,127.9C85.8,135.4 86.6,135.1 85.2,127.6C86.9,133.4 88.0,133.1 87.4,127.0C88.8,132.5 90.3,132.2 90.3,124.3C91.4,133.3 92.6,133.2 93.1,123.4Z" fill="#db2b3e"/>
<g mask="url(#rm)"><use href="#bo" fill="none" stroke="#ffffff" stroke-opacity="0.40" stroke-width="11"/><use href="#bo" fill="none" stroke="#ffffff" stroke-opacity="0.25" stroke-width="3"/></g>
<path d="M85,65.6C82,95.6 74,130.6 67.5,160.6C61.5,190.6 57.5,215.6 51.5,235" fill="none" stroke="#27272b" stroke-width="3.3" stroke-linecap="round"/>
<path d="M51.5,235C42,266 27,300 14.5,319.6L8,327" fill="none" stroke="#2a2a30" stroke-width="1.3" stroke-linecap="round"/>
<circle cx="85.3" cy="63.8" r="6.6" fill="#1d1d22"/>
<circle cx="85.3" cy="63.8" r="3.6" fill="#2e2e36"/>
<text x="88.5" y="159.4" font-family="'Liberation Sans',sans-serif" font-weight="700" font-size="6.3" fill="#ffffff" text-anchor="middle" textLength="48" lengthAdjust="spacingAndGlyphs">SURFBOARD</text>
<text transform="translate(88.5,160) scale(1,-1)" x="0" y="0" font-family="'Liberation Sans',sans-serif" font-weight="700" font-size="6.3" fill="#1a1030" text-anchor="middle" textLength="48" lengthAdjust="spacingAndGlyphs">SURFBOARD</text>
</g>
</g>
<g transform="translate(478.50,84.40) scale(1.0003)">
<path d="M-9.5,322.6C-14,318.6 -27,313.2 -32.5,314.6C-36.8,316 -36.6,323.5 -33,326.6C-29.5,328.8 -20,328 -14,325.8C-11.5,324.9 -10.2,323.8 -9.5,322.6Z" fill="none" stroke="#0c0c0e" stroke-width="4.3" stroke-linejoin="round"/>
<path d="M-9,322.5C-5,324.5 0,326.3 4,326.3L7,326C10,323 13,318.5 16.5,313.5" fill="none" stroke="#151517" stroke-width="1.5" stroke-linecap="round"/>
<g clip-path="url(#bc)">
<rect x="-2" y="-2" width="172" height="335" fill="#25225a"/>
<path d="M93.6,-30.0C93.9,-1.0 97.6,-0.6 99.8,-15.2C100.8,-5.8 105.7,-4.8 108.5,-14.6C108.0,-0.9 111.2,0.1 116.0,-24.8C113.2,0.3 115.8,1.3 119.5,-14.1C116.9,4.4 118.8,5.3 122.5,-9.5C121.3,1.5 124.1,2.9 127.6,-7.7C126.0,7.6 131.2,11.0 137.7,-4.1C134.9,14.8 141.6,20.9 150.8,5.4C144.0,24.4 145.7,26.4 153.8,9.6C147.9,27.6 151.5,32.2 158.8,21.2C153.8,32.1 154.4,33.1 161.2,20.5C155.7,37.9 161.1,47.1 168.7,41.4C165.8,47.6 167.4,50.8 174.3,43.0C166.8,55.2 168.1,58.1 173.3,52.9C171.7,59.7 175.2,69.1 179.2,69.4C174.3,77.2 176.1,83.4 190.7,72.9C176.6,86.7 177.3,89.7 186.1,83.6C177.3,91.9 177.8,94.4 187.9,87.6C182.1,93.8 183.0,98.3 191.1,94.5C180.5,104.9 181.9,113.2 193.1,110.4C184.7,116.1 185.2,119.8 191.2,118.3C182.2,124.0 182.7,128.7 191.5,127.1C187.1,129.5 187.3,131.9 191.3,131.4C183.8,134.7 184.0,137.2 193.6,135.4C183.9,139.4 184.2,143.3 193.5,142.6C185.9,147.6 186.2,157.9 197.0,161.2C186.4,165.9 186.2,174.3 193.8,178.0C184.0,178.5 183.7,183.5 192.9,187.0C184.3,186.1 184.1,188.6 192.3,191.4C185.2,191.2 184.7,195.9 191.9,199.8C186.0,200.1 185.1,206.4 190.5,211.0C182.2,208.7 181.6,212.4 190.8,218.5C181.2,215.1 180.3,219.2 187.3,224.9C180.4,222.5 179.2,227.0 184.7,232.5C179.2,229.9 178.3,233.0 184.2,238.7C178.3,235.5 177.4,238.5 187.6,248.2C173.4,237.9 172.3,241.2 179.4,249.1C174.8,246.2 173.7,249.2 185.1,261.8C172.8,252.3 170.5,257.9 178.9,270.3C169.7,261.3 168.4,264.1 176.8,276.0C165.7,266.7 161.5,274.8 163.4,282.6C158.9,278.1 156.7,281.6 160.0,289.8C156.1,285.6 153.6,289.2 156.7,298.0C152.1,290.9 150.5,293.0 155.1,304.2C148.2,292.3 146.3,294.7 151.2,308.0C145.1,297.3 142.4,300.3 145.1,310.2C139.0,297.6 136.9,299.7 142.7,318.2C136.6,303.7 134.7,305.4 137.3,315.6C133.0,306.1 130.5,308.2 134.2,324.4C129.1,310.4 126.9,312.0 129.3,324.1C125.9,313.8 124.3,314.8 125.7,323.1C123.0,314.9 121.4,315.9 123.8,329.8C119.8,316.4 117.2,317.8 118.4,328.9C116.0,321.6 113.3,322.8 115.2,340.4C111.3,323.7 107.9,325.0 108.2,336.3C105.5,320.5 103.3,321.1 104.4,339.8C102.4,323.9 101.1,324.2 101.7,335.8C99.5,321.6 96.7,322.1 96.6,337.1C95.3,328.1 93.2,328.3 93.2,349.9C92.0,325.0 90.8,325.1 90.8,341.1C90.0,326.2 88.5,326.3 88.0,336.8C87.2,329.2 85.0,329.2 84.1,338.3C83.8,326.9 82.5,326.8 81.5,342.0C81.5,325.4 79.8,325.2 78.6,336.4C78.3,323.8 75.5,323.3 73.4,338.3C71.5,321.4 62.2,318.2 57.2,327.4C57.6,319.0 54.6,317.4 51.3,326.8C53.6,312.6 51.4,311.2 47.6,322.9C47.7,311.5 40.7,306.1 33.2,319.1C37.7,303.1 35.3,300.7 29.0,313.8C32.1,303.4 30.1,301.3 25.1,310.7C29.3,297.0 26.0,293.1 19.0,303.7C24.7,289.4 22.3,286.1 16.4,294.3C20.7,284.5 19.0,281.9 13.7,289.0C16.7,282.2 15.2,279.7 5.5,293.2C14.3,278.0 13.0,275.7 2.7,289.6C13.2,271.4 10.8,266.9 2.7,274.9C7.3,267.0 5.6,263.4 -4.5,273.5C6.4,257.8 3.9,252.1 -6.3,259.7C0.2,250.9 -1.7,245.8 -9.0,250.0C-2.6,240.2 -5.4,230.5 -13.9,232.3C-4.4,223.4 -5.9,216.8 -18.2,220.8C-10.3,213.7 -11.7,205.7 -17.5,205.0C-11.4,201.8 -11.8,199.2 -19.8,200.9C-8.8,195.9 -9.3,191.9 -22.8,194.0C-12.8,190.0 -13.1,186.1 -18.7,185.8C-13.9,183.6 -14.1,179.9 -26.8,180.2C-10.1,175.7 -10.3,168.7 -21.2,166.4C-14.4,165.2 -14.4,160.9 -19.6,159.3C-12.1,157.4 -11.9,150.8 -20.1,147.3C-11.8,146.5 -11.4,140.0 -19.2,135.7C-10.8,135.7 -10.2,128.6 -16.1,123.8C-12.2,122.7 -11.3,115.0 -24.5,105.2C-8.0,112.7 -7.3,108.6 -17.8,100.7C-8.3,105.1 -7.6,101.3 -16.1,93.9C-5.2,100.0 -4.4,96.1 -15.8,85.7C-5.2,92.0 -4.0,87.0 -9.8,79.9C-1.0,84.8 1.0,78.1 -5.4,68.3C2.3,74.8 3.6,71.0 -5.2,59.2C4.0,67.6 5.8,63.0 -0.6,52.4C4.5,57.1 6.0,53.6 -3.8,38.0C7.3,52.3 8.5,49.8 2.9,40.2C11.5,50.8 13.4,47.1 1.5,25.4C12.9,43.0 13.7,41.5 6.8,28.6C14.2,38.7 16.5,35.0 9.8,19.7C17.5,31.7 19.7,28.4 14.6,15.2C22.4,29.4 24.3,27.1 20.3,16.0C26.0,27.7 27.0,26.5 16.8,1.4C28.1,23.8 31.5,20.0 27.3,4.5C32.7,17.3 34.1,16.0 26.4,-7.8C36.4,16.2 40.0,13.2 36.0,-5.4C42.4,12.1 45.3,10.0 40.4,-13.2C46.3,6.4 48.4,5.1 45.7,-9.6C48.9,1.4 50.6,0.5 49.4,-7.6C52.6,0.9 56.2,-0.8 56.0,-9.5C60.3,-0.2 67.9,-2.5 68.7,-20.9C71.7,-3.0 75.2,-3.5 75.7,-15.2C77.1,-5.0 79.4,-5.2 79.8,-16.5C81.5,-7.9 86.0,-8.0 87.9,-23.4C88.9,-4.3 91.8,-4.2 93.6,-30.0Z" fill="#f4de1b"/>
<path d="M146.5,292.5L158,294L160,333L112,333L114,321.5L140,322Z" fill="#29265a"/><path d="M153,294.5L157.5,295L155.5,327L151.5,324Z" fill="#3b3870"/>
<path d="M87.4,1.5C87.7,22.3 88.9,22.4 89.8,-4.7C90.0,21.1 91.9,21.3 93.3,0.2C93.0,18.4 94.1,18.6 95.3,2.6C95.1,14.1 96.4,14.4 97.3,6.6C97.9,21.4 102.7,23.0 106.8,3.5C105.5,23.0 108.7,24.4 112.4,8.6C112.2,20.2 116.8,22.9 122.2,6.4C117.6,29.1 118.5,29.8 123.6,9.7C118.9,31.2 119.9,32.0 125.9,9.6C120.9,33.4 123.1,35.2 127.7,22.4C124.5,38.0 127.3,40.6 136.1,18.1C130.6,36.3 131.7,37.4 139.1,18.2C132.0,40.5 133.8,42.4 141.0,26.2C136.3,42.3 139.4,45.9 147.7,31.2C141.5,47.4 143.6,50.1 149.7,40.1C142.2,58.4 145.0,62.4 156.8,44.9C148.1,61.0 149.0,62.4 162.3,41.4C150.3,62.8 151.9,65.4 159.5,55.4C154.4,64.9 156.1,67.8 168.7,52.0C155.0,73.0 156.8,76.3 164.6,68.3C155.8,80.1 156.5,81.6 173.8,61.6C160.4,79.6 162.2,83.4 169.3,77.7C162.8,85.7 163.7,87.9 171.3,81.3C161.2,92.6 162.3,95.4 177.9,82.3C164.9,95.5 165.9,98.3 178.7,88.9C168.4,98.6 169.3,101.2 180.4,93.7C170.0,103.5 171.4,107.8 181.5,102.8C171.4,112.6 173.4,120.6 184.4,118.1C176.4,125.0 177.9,133.1 192.5,131.1C175.8,137.2 176.1,139.1 183.9,137.5C175.6,142.1 176.3,148.2 195.9,147.0C177.8,152.2 178.2,158.6 187.7,160.1C180.2,162.1 180.3,166.1 191.5,167.6C177.4,168.0 177.4,170.0 189.0,171.4C175.4,171.6 175.2,174.5 198.7,178.1C175.7,177.0 175.3,181.6 184.5,185.0C179.6,186.3 178.6,193.2 188.1,198.7C176.9,195.3 176.8,196.1 187.2,200.0C173.5,196.5 172.9,199.9 187.1,207.0C173.5,202.9 172.6,206.8 184.4,214.1C172.9,209.2 172.3,211.4 184.8,219.1C173.4,214.1 172.5,217.2 179.2,222.7C167.0,215.8 166.4,217.6 176.1,224.7C170.2,222.0 169.2,224.8 184.7,237.4C165.8,223.9 165.4,225.0 182.5,238.5C163.7,225.2 162.8,227.7 176.9,240.5C163.9,230.8 162.9,233.1 175.5,245.7C164.3,236.9 163.0,240.0 171.5,249.9C160.0,240.0 158.5,243.3 168.3,255.8C157.5,244.9 156.6,246.6 173.2,267.0C158.1,250.0 157.4,251.3 164.3,260.5C155.0,249.9 154.1,251.4 165.7,267.3C153.6,253.9 151.4,257.5 161.0,273.8C150.1,259.8 148.2,262.7 153.0,272.4C147.2,264.0 146.2,265.4 154.3,280.2C143.6,264.4 141.1,267.7 149.4,286.5C143.2,275.9 141.8,277.6 144.2,284.2C138.5,274.8 136.4,277.2 141.7,292.0C133.1,276.5 129.1,280.5 133.7,298.8C127.9,285.1 125.6,287.1 131.1,308.0C125.7,291.9 124.7,292.7 129.0,308.9C122.1,287.5 120.8,288.5 124.0,302.4C121.5,295.2 119.9,296.3 122.6,309.8C116.4,290.7 112.8,292.9 116.0,317.0C111.9,298.2 110.5,298.9 112.1,311.2C109.8,302.7 107.5,303.7 108.8,318.1C105.9,299.8 105.0,300.2 107.6,322.0C103.6,296.2 101.8,296.9 103.1,313.7C100.7,304.1 97.0,305.1 96.4,315.6C94.6,302.9 91.7,303.4 91.1,315.8C89.4,308.7 85.3,308.7 83.5,326.2C83.4,304.0 81.8,303.8 79.9,336.3C80.4,305.5 78.2,305.1 76.7,314.5C77.0,300.0 75.0,299.4 71.9,325.0C73.1,306.4 71.6,305.9 70.3,312.7C70.6,300.8 67.6,299.7 64.6,312.5C65.4,302.3 63.1,301.2 60.7,309.7C63.4,293.3 62.7,292.9 57.9,316.2C60.1,301.0 58.3,300.0 55.9,307.3C58.3,291.5 55.4,289.6 49.9,305.8C51.8,296.1 50.1,294.8 47.6,301.1C50.8,287.2 48.7,285.6 41.0,306.5C45.5,290.4 43.9,288.9 39.8,298.5C44.5,283.4 43.0,282.0 34.6,302.2C42.2,279.7 40.0,277.5 31.8,294.2C37.9,278.7 36.8,277.5 32.1,286.7C36.5,274.6 34.5,272.2 23.1,292.8C31.5,274.2 29.8,272.0 21.3,285.8C31.0,265.4 28.5,261.9 19.1,274.4C25.9,262.6 25.0,261.2 19.3,269.0C24.5,260.0 23.4,258.3 12.0,273.6C22.0,257.7 20.6,255.3 7.0,271.9C21.3,251.6 20.1,249.4 5.5,266.0C17.2,250.6 16.2,248.7 9.3,255.7C14.5,247.6 12.5,243.6 4.6,249.8C10.4,239.7 6.8,231.1 -2.3,234.4C5.2,226.2 3.3,220.4 -6.7,224.4C6.3,214.4 5.0,209.7 -5.3,213.3C1.7,206.8 -0.0,199.2 -15.4,201.9C1.7,194.4 0.9,190.1 -9.8,191.5C-0.6,188.7 -0.7,187.6 -18.2,191.5C0.5,185.9 0.2,183.1 -11.2,184.4C-3.8,181.8 -4.1,178.3 -11.3,178.1C-0.8,175.9 -1.0,173.4 -20.2,174.0C-7.1,170.8 -7.2,164.7 -16.7,162.2C-2.6,160.1 -2.1,152.0 -12.0,147.3C-2.5,147.9 -2.1,144.3 -22.9,137.8C-0.6,141.5 0.3,135.8 -15.1,128.2C0.8,133.2 1.3,131.0 -10.9,125.1C1.2,128.8 2.0,125.1 -9.5,118.1C1.3,122.3 2.0,119.3 -8.2,112.5C2.3,117.1 3.2,113.8 -7.8,105.6C2.2,110.6 3.1,107.4 -2.2,102.4C5.1,106.7 5.8,104.6 -2.7,97.2C5.8,101.6 7.4,96.8 -2.3,86.1C9.3,94.6 10.9,90.7 3.7,81.6C12.8,88.7 14.6,84.4 1.9,67.6C12.8,78.9 14.0,76.4 6.0,65.2C17.2,77.5 18.8,74.3 13.5,65.3C21.3,74.0 23.1,70.6 15.8,57.3C22.1,64.4 24.5,60.4 16.6,44.0C25.8,58.2 27.4,55.8 23.3,46.3C27.6,53.2 28.9,51.4 18.8,29.9C32.9,55.9 34.9,53.3 22.9,24.7C33.0,45.3 34.3,43.6 29.5,30.6C36.6,44.6 38.8,42.1 35.5,30.7C42.1,43.8 45.6,40.3 42.1,24.6C47.3,37.7 49.6,35.6 45.7,18.1C49.7,31.3 50.5,30.6 47.6,18.4C51.7,30.0 54.0,28.3 50.8,11.2C55.6,28.9 57.3,27.7 54.9,13.5C58.1,22.7 61.5,20.7 60.6,8.1C63.6,23.0 65.1,22.2 61.9,-3.3C66.9,22.6 70.0,21.2 69.6,6.7C71.7,17.5 74.4,16.5 73.1,-12.4C76.3,22.1 77.7,21.8 76.7,-3.7C78.1,15.0 79.1,14.8 78.5,-2.7C80.2,19.4 81.8,19.1 81.8,3.2C82.8,15.8 84.7,15.6 85.1,3.1C85.8,22.0 87.0,22.0 87.4,1.5Z" fill="#e6344a"/>
<path d="M88.2,32.3C89.1,51.2 93.4,51.9 97.4,23.1C95.3,54.4 97.3,55.0 102.4,19.9C98.5,55.5 100.1,56.1 106.3,18.6C102.9,48.2 105.6,49.5 108.4,40.0C107.6,48.8 109.8,50.1 112.9,40.4C109.9,55.8 111.4,56.8 116.1,40.6C113.6,54.4 116.1,56.3 123.5,35.5C118.5,56.4 121.7,59.4 132.5,34.0C123.7,61.4 126.3,64.3 134.5,48.0C125.3,74.0 129.1,79.1 144.6,54.9C130.0,82.8 131.0,84.5 142.5,66.2C132.5,85.1 134.1,87.9 148.8,67.5C139.8,83.1 141.5,86.5 155.2,70.2C138.7,93.4 139.7,95.5 153.7,79.3C141.5,95.3 142.3,97.2 152.0,87.1C145.0,96.1 145.8,98.1 153.3,91.0C146.0,99.5 146.5,100.9 153.5,94.5C145.9,104.9 148.0,111.1 163.4,101.3C148.1,115.0 149.1,118.8 161.8,111.6C147.2,122.3 147.6,124.3 163.1,115.3C150.9,123.9 151.5,126.4 163.3,120.8C154.5,127.0 155.2,130.7 167.5,126.5C153.3,134.1 153.8,137.3 163.5,134.8C155.4,138.9 155.8,142.0 173.1,137.9C157.4,144.3 157.9,149.1 162.8,149.8C151.6,152.9 151.8,155.6 170.8,154.2C157.1,157.3 157.2,161.4 174.4,162.4C157.0,163.5 157.0,166.0 167.1,167.2C155.4,167.9 155.3,171.1 166.2,173.2C153.1,172.9 153.0,175.9 175.7,181.0C155.7,178.7 155.5,182.4 164.0,186.0C151.2,183.4 150.9,186.0 162.0,190.5C151.7,188.2 151.4,191.2 168.2,199.1C155.2,195.6 154.4,200.7 160.2,205.7C151.7,203.0 150.7,208.1 171.4,224.2C149.3,211.2 147.9,216.4 155.4,225.0C150.0,221.4 149.2,223.8 155.6,230.9C144.8,222.7 143.3,226.9 153.7,240.2C142.4,229.4 141.1,232.5 151.6,247.0C139.0,233.2 137.6,236.3 149.0,253.9C137.9,245.8 130.3,257.1 138.3,284.5C127.3,261.8 125.6,263.6 130.7,278.2C121.9,258.7 120.1,260.5 126.1,279.4C121.3,268.4 119.5,269.9 122.5,281.6C117.3,267.8 115.5,269.1 120.7,289.5C114.7,271.3 112.9,272.5 116.3,288.3C112.6,276.2 111.3,277.0 113.8,289.8C109.0,273.1 106.6,274.3 109.2,292.4C104.5,274.6 100.9,275.9 103.6,304.5C98.2,273.8 94.8,274.5 95.6,298.2C92.4,277.9 88.0,278.3 86.8,302.5C85.6,273.1 83.0,273.1 81.8,298.1C81.6,278.2 80.1,278.1 78.8,296.6C78.8,275.4 76.3,275.1 73.9,294.2C73.7,282.7 70.6,282.0 68.5,290.5C69.2,280.1 67.5,279.6 62.5,308.7C67.3,272.9 65.6,272.3 60.1,299.2C64.3,272.7 62.7,272.1 58.9,287.6C59.8,278.8 57.2,277.4 51.6,296.2C55.6,275.9 53.0,274.3 46.4,293.4C53.2,268.7 52.0,267.8 46.7,282.9C52.5,262.7 51.2,261.6 41.9,286.4C46.8,269.1 44.2,266.7 36.9,281.6C45.4,258.9 44.0,257.4 32.2,282.4C43.6,255.1 42.3,253.5 34.7,267.7C39.7,256.2 38.6,254.9 28.7,273.1C37.4,253.7 35.2,250.6 27.3,261.7C32.4,252.4 31.8,251.5 27.6,257.8C34.0,245.8 32.5,243.4 20.3,260.2C32.9,240.6 32.2,239.3 20.2,255.6C27.6,241.2 24.2,233.8 15.5,239.7C26.0,227.8 25.7,226.9 6.2,247.0C21.0,230.0 19.9,227.0 7.0,237.7C25.1,219.7 24.5,217.6 7.0,231.8C18.5,220.9 17.9,218.7 12.8,221.9C17.6,216.6 16.6,213.0 9.3,216.6C18.1,209.0 17.3,205.2 6.0,210.4C16.9,203.1 16.4,200.7 -1.1,208.8C17.4,197.0 16.6,190.6 1.1,193.8C13.7,188.3 13.5,185.2 5.0,186.5C15.0,182.5 14.8,178.8 4.5,179.5C13.0,175.2 12.8,166.8 -0.1,163.7C17.0,161.3 17.3,153.5 5.9,148.6C16.6,150.1 16.8,148.0 -5.3,141.7C16.0,145.7 16.5,141.5 3.1,135.3C13.5,137.7 14.1,133.8 5.3,128.5C14.1,131.8 14.5,129.8 3.3,123.4C19.2,129.0 20.7,122.4 10.4,112.6C21.6,119.4 22.3,116.8 12.3,107.8C18.6,111.7 19.4,109.0 13.1,102.3C21.0,108.4 21.7,106.3 14.8,98.9C24.6,107.0 25.5,104.5 12.6,89.9C25.2,101.1 26.7,97.3 17.3,84.1C28.9,96.7 30.1,94.0 19.8,78.9C31.2,93.2 31.9,91.8 23.8,79.8C30.9,86.5 34.0,81.0 29.9,70.3C37.3,82.2 38.2,80.8 28.4,61.9C39.6,80.5 41.3,78.1 30.8,54.7C40.9,73.3 42.7,70.9 35.3,51.7C43.8,67.7 46.9,64.3 43.8,51.8C48.7,63.0 50.6,61.2 47.2,47.9C52.6,62.4 54.3,61.0 49.0,40.1C56.3,63.2 57.9,62.0 50.1,29.0C57.8,53.5 61.6,51.2 60.9,39.9C63.8,52.0 65.4,51.1 62.9,31.9C67.5,54.2 70.1,53.2 68.0,28.8C70.6,46.8 71.6,46.5 69.7,24.4C73.0,45.7 76.0,45.0 75.8,25.6C77.9,49.6 79.8,49.4 79.7,27.0C81.0,50.5 82.6,50.4 82.8,24.7C83.5,42.4 84.9,42.4 85.5,26.8C85.8,52.3 87.2,52.4 88.2,32.3Z" fill="#1e1b59"/>
<path d="M88.8,54.7C89.8,73.1 93.4,73.4 95.7,60.1C95.8,69.3 98.1,69.7 100.6,56.8C99.5,70.0 101.1,70.4 103.9,56.1C102.6,71.4 105.6,72.5 109.5,59.7C107.6,72.3 110.0,73.4 115.0,57.6C111.4,74.9 113.6,76.1 116.9,68.3C115.0,76.5 116.7,77.6 121.4,66.3C116.3,83.6 118.4,85.3 128.0,64.2C121.1,84.3 123.9,86.8 131.8,73.3C124.2,90.4 125.6,91.9 135.4,75.2C126.9,93.1 129.1,95.8 135.5,87.7C132.0,96.9 135.6,102.3 142.0,97.8C135.3,107.9 137.2,111.6 145.7,104.8C140.8,112.5 143.1,118.3 152.4,113.6C145.1,120.2 145.7,122.3 154.9,116.7C143.8,126.5 145.2,131.8 153.7,129.2C148.5,132.7 149.0,134.8 155.8,132.4C148.8,137.4 149.6,142.4 164.9,139.1C148.6,145.7 149.0,149.4 162.1,147.7C149.7,150.9 149.8,152.2 157.6,151.2C152.1,152.9 152.2,154.8 158.2,154.6C152.0,156.2 152.1,158.2 162.0,158.0C147.9,160.5 148.0,164.5 167.8,166.4C149.7,167.4 149.6,171.5 158.1,174.0C148.0,173.4 147.8,175.6 163.9,179.4C152.7,179.9 151.8,187.7 156.7,192.3C151.0,190.9 150.6,193.2 156.9,196.9C146.8,193.4 146.1,196.6 161.5,206.4C145.3,198.3 144.6,200.9 152.7,207.2C143.8,202.5 143.0,205.1 153.4,213.9C145.6,209.2 144.7,211.8 152.0,218.9C140.6,210.5 139.6,213.0 151.7,225.4C142.7,218.0 141.6,220.4 150.0,230.2C140.4,221.2 139.4,223.1 145.8,231.4C137.9,223.1 137.2,224.5 148.8,239.2C136.8,226.1 135.4,228.4 143.5,240.7C134.4,229.5 133.4,231.1 145.3,249.5C133.6,233.9 132.1,236.0 137.7,246.5C130.7,235.8 130.1,236.5 135.0,245.3C128.4,235.5 127.1,237.1 132.1,247.8C124.3,236.6 121.0,239.9 126.1,255.6C121.2,247.0 118.6,249.1 121.9,261.5C116.5,247.9 115.2,248.8 119.0,262.0C115.3,253.2 113.2,254.5 114.6,262.2C110.5,249.7 108.9,250.6 111.5,263.3C107.9,250.8 106.6,251.4 111.7,276.7C105.9,255.3 102.9,256.3 104.9,275.8C100.6,252.5 98.8,253.0 100.8,273.7C97.4,258.5 93.0,259.2 92.0,270.9C89.9,258.7 85.2,258.8 83.3,270.4C83.3,256.1 81.7,256.0 80.2,272.4C80.5,253.8 77.9,253.4 74.9,272.7C76.2,257.0 74.8,256.7 70.6,283.6C72.7,259.2 69.0,258.1 65.7,268.0C68.8,250.3 67.2,249.6 63.0,264.5C64.5,254.8 62.3,253.6 57.2,268.4C60.8,251.7 57.7,249.7 50.6,265.7C56.6,246.3 54.3,244.5 48.0,256.8C51.7,245.3 49.1,242.8 43.9,250.7C48.9,239.0 47.3,237.1 41.4,246.1C44.5,238.2 42.3,235.3 32.0,249.1C40.6,233.5 38.3,230.1 25.4,244.8C37.8,226.9 36.2,224.0 29.3,230.2C33.8,223.8 32.7,221.4 24.9,228.2C31.6,220.1 30.5,217.6 24.7,221.7C33.1,213.2 32.5,211.5 22.0,219.6C29.6,212.4 29.0,210.7 22.7,214.9C31.0,207.6 30.4,205.7 16.1,215.0C28.3,205.6 27.8,203.9 16.6,210.5C26.7,203.0 26.0,200.3 17.5,204.1C25.4,198.3 24.6,194.6 17.0,196.7C25.2,191.3 24.5,186.8 14.4,188.6C27.2,183.8 27.1,182.3 13.2,185.8C25.4,181.4 25.2,178.9 13.8,180.6C22.0,177.0 21.7,171.6 16.2,170.1C24.1,168.1 24.0,163.4 10.4,161.3C24.3,160.4 24.5,155.8 7.5,151.5C21.9,152.1 22.4,146.9 11.3,141.8C25.8,144.3 26.6,138.9 9.3,129.0C25.5,135.8 25.9,133.9 18.5,129.3C29.4,133.7 30.2,130.6 15.8,120.5C29.2,127.9 29.9,125.5 20.7,118.2C27.7,122.2 28.4,119.9 20.3,112.7C28.7,116.9 30.8,111.5 25.2,103.5C35.0,112.6 35.7,111.1 27.9,102.1C35.2,109.1 36.0,107.5 30.6,100.6C35.8,105.4 37.1,103.2 28.3,90.9C36.7,99.8 38.5,96.9 35.1,90.2C43.3,100.8 44.5,99.0 34.9,82.8C45.5,97.4 47.5,94.9 41.6,82.1C45.8,88.1 47.6,86.2 41.2,71.4C50.1,88.2 51.3,87.0 46.8,75.7C51.7,84.1 54.1,82.0 51.8,73.2C58.5,83.1 65.6,78.9 64.9,63.6C70.5,75.3 79.2,73.2 81.3,53.9C83.5,74.5 87.2,74.4 88.8,54.7Z" fill="#1169b5"/>
<path d="M91.5,78.2C91.7,87.9 93.1,88.0 94.4,73.6C95.0,85.5 98.8,86.2 101.1,79.2C100.1,89.0 101.3,89.4 104.0,75.6C102.2,89.3 103.8,89.8 106.2,80.8C105.4,86.2 106.4,86.6 108.1,80.4C106.1,91.1 107.4,91.8 112.0,76.4C108.8,91.2 110.7,92.2 114.7,81.7C112.3,91.6 114.0,92.8 118.8,81.4C113.8,96.3 114.8,97.1 120.3,84.5C116.1,97.2 117.9,98.7 124.1,87.0C120.7,96.1 122.1,97.5 126.2,91.1C121.0,103.4 123.2,105.9 132.8,92.4C126.7,104.0 128.6,106.4 133.5,101.1C126.9,111.1 127.6,112.1 140.2,96.2C130.0,110.5 130.8,111.9 138.9,102.9C131.2,116.1 134.6,123.3 141.9,120.7C137.8,125.1 138.6,127.5 142.8,125.6C140.0,129.4 141.3,134.1 152.7,129.8C138.8,138.0 139.4,140.4 148.6,137.2C139.4,143.0 140.1,147.9 151.1,146.5C142.3,150.0 142.6,153.2 155.4,152.1C144.6,155.2 144.8,159.1 150.2,160.1C142.1,162.0 142.1,166.5 149.1,168.6C144.4,168.9 144.3,171.0 152.6,172.9C141.9,172.2 141.7,174.9 152.5,178.3C141.3,176.6 141.0,179.0 152.2,183.4C141.9,180.9 141.6,182.8 149.4,186.4C140.4,186.2 138.3,194.7 143.4,201.6C139.6,199.4 139.2,200.5 144.4,204.8C135.1,199.4 133.7,203.0 140.0,210.4C135.4,207.6 134.0,210.5 144.1,222.7C133.3,212.3 132.2,214.5 137.1,221.5C130.9,214.8 130.2,216.0 137.8,226.3C128.5,215.7 127.2,217.8 132.1,226.4C125.9,219.3 123.6,222.2 128.2,232.6C122.4,223.4 121.4,224.6 125.0,232.6C121.8,227.9 120.4,229.4 123.2,237.0C118.1,229.5 114.8,232.3 116.8,242.2C112.5,232.5 110.2,234.0 114.0,250.3C108.9,234.6 107.6,235.3 112.3,255.8C105.6,237.3 100.0,239.3 99.7,254.2C97.9,243.0 96.6,243.3 97.0,254.0C95.6,244.2 94.0,244.4 93.8,250.1C91.9,243.7 86.8,243.8 85.0,249.0C84.9,240.4 83.4,240.2 82.1,250.6C82.2,243.1 80.7,242.8 78.2,261.3C79.3,243.5 76.6,242.8 74.9,247.0C75.6,241.0 74.5,240.6 72.4,249.3C74.6,235.9 73.4,235.4 69.8,249.9C71.8,237.7 70.0,236.8 64.2,255.6C68.3,235.1 64.6,232.7 58.0,246.2C62.1,233.9 60.9,233.0 56.3,243.0C60.3,232.0 59.2,231.1 55.9,237.0C57.7,231.4 56.2,229.9 53.6,233.3C56.8,225.3 55.0,223.3 45.1,238.6C53.5,222.8 52.1,220.9 44.8,230.6C52.4,217.9 51.3,216.2 40.2,230.3C48.1,218.2 46.7,216.1 39.1,224.1C45.4,214.2 43.2,210.0 36.1,214.7C41.5,207.9 40.1,204.5 35.7,206.5C40.5,201.2 39.4,197.9 30.8,202.4C38.7,195.1 37.3,189.9 30.7,191.0C35.7,187.5 35.0,184.3 29.6,185.0C37.4,181.0 37.0,177.7 28.8,178.5C34.2,176.4 34.0,174.2 27.6,174.6C33.4,171.7 33.2,166.1 27.7,164.2C32.9,163.1 33.0,160.2 27.8,158.8C33.6,158.3 33.8,155.4 27.9,153.5C35.1,153.6 35.4,150.7 26.3,147.3C33.5,147.9 34.1,144.1 24.0,139.0C36.1,142.8 36.5,140.6 29.3,136.5C39.1,140.1 39.7,137.7 28.2,130.5C36.5,134.1 37.2,131.5 34.0,128.5C41.0,131.6 42.2,128.1 33.3,119.7C42.0,123.9 44.6,118.0 39.7,109.9C47.4,117.6 48.0,116.4 41.8,108.6C46.2,111.2 49.1,106.7 44.3,96.7C50.7,103.9 53.4,100.6 50.2,92.1C55.7,100.8 57.0,99.3 54.4,92.6C59.1,98.7 62.7,95.7 58.3,79.4C65.3,94.3 69.1,92.0 66.5,76.5C70.8,87.5 74.7,85.9 73.5,69.8C77.3,89.1 79.2,88.5 78.4,76.3C80.7,86.6 83.8,86.1 84.2,75.5C85.1,85.2 86.1,85.1 86.1,74.8C87.5,88.8 90.3,88.8 91.5,78.2Z" fill="#108ecb"/>
<path d="M91.8,86.2C91.9,94.2 93.0,94.3 94.2,80.4C94.1,94.1 96.2,94.5 97.8,87.0C97.6,95.0 99.7,95.6 102.4,84.0C101.2,95.6 103.4,96.5 106.2,87.6C106.2,94.7 110.7,97.3 114.9,90.6C113.5,98.8 117.0,101.7 119.9,99.2C116.9,106.6 118.2,107.8 122.8,100.4C120.8,105.1 121.6,106.1 125.2,100.8C122.2,108.2 124.6,111.3 130.5,105.2C124.2,114.8 125.1,116.2 129.5,111.3C127.6,115.3 129.2,118.0 132.3,116.0C129.2,120.8 130.5,123.4 137.1,118.6C132.3,124.4 133.5,127.3 137.7,125.3C133.0,129.9 133.9,132.4 141.3,128.6C135.5,132.8 135.8,133.9 140.0,131.8C135.5,135.6 136.2,138.4 142.1,136.5C135.5,141.0 136.2,144.3 144.1,142.5C137.6,146.5 138.2,151.0 144.6,151.3C137.1,153.4 137.2,155.3 142.9,155.1C137.1,157.0 137.2,160.5 149.9,161.3C140.2,162.1 140.2,163.7 143.3,164.3C138.3,165.6 138.1,169.7 145.5,172.4C138.2,172.6 137.6,176.8 143.5,180.2C136.0,179.0 135.4,182.3 143.7,187.2C136.3,185.3 135.2,189.3 140.9,194.3C135.8,192.9 134.3,197.1 137.2,201.3C133.0,199.0 132.0,201.3 135.4,205.5C129.5,200.8 128.8,202.3 138.3,212.7C129.4,204.7 128.2,206.9 131.0,211.4C126.9,207.7 125.7,209.6 131.3,218.1C125.4,211.3 124.4,212.8 128.6,220.0C123.6,214.7 121.4,217.5 125.7,227.4C120.4,219.8 118.3,221.9 120.6,228.9C115.5,220.1 113.5,221.9 116.7,232.1C112.7,225.7 109.4,228.0 109.9,234.4C108.1,230.0 106.8,230.8 108.2,238.2C105.2,228.2 104.0,228.7 106.8,243.1C102.9,228.5 101.0,229.2 102.9,244.1C100.3,233.2 98.0,233.8 97.9,240.5C96.5,230.1 96.0,230.2 96.6,239.0C95.3,233.0 93.1,233.3 93.0,247.5C92.1,233.9 91.1,234.0 91.1,248.2C90.1,232.1 88.3,232.1 87.6,239.1C87.2,233.8 85.5,233.6 84.4,243.4C84.6,231.9 83.4,231.7 82.3,238.6C82.4,234.4 81.7,234.2 80.8,240.2C80.9,233.8 79.0,233.3 77.1,242.0C78.1,232.8 77.1,232.5 75.4,240.7C76.3,231.2 74.3,230.4 71.8,238.1C73.3,227.9 71.1,226.7 68.2,233.9C69.1,229.1 68.0,228.4 63.5,240.8C67.8,226.0 66.5,225.1 62.8,233.7C65.7,225.0 65.0,224.5 62.5,230.1C64.0,224.5 62.4,223.2 58.2,230.9C61.8,221.5 60.3,220.0 57.2,224.6C59.0,219.4 57.4,217.7 53.5,222.8C55.8,217.6 54.5,215.9 51.7,218.8C53.9,212.6 51.0,208.2 44.5,212.9C48.4,207.4 47.3,205.4 44.2,207.5C48.1,202.7 47.2,200.8 41.5,204.9C46.1,198.9 44.5,194.7 39.3,196.5C45.1,191.7 44.5,189.7 32.8,195.8C42.9,188.6 42.1,185.4 35.8,187.1C42.2,183.2 41.6,180.3 34.4,181.8C39.6,178.3 38.9,173.4 34.6,172.5C38.6,169.3 38.4,161.9 30.9,159.0C39.4,158.1 39.7,153.9 33.8,151.3C39.1,151.9 39.2,150.8 35.7,149.6C38.6,149.7 38.9,147.8 35.3,146.0C40.3,146.9 40.6,145.1 30.2,140.5C41.0,144.1 41.3,142.8 34.7,139.6C41.7,141.8 42.2,139.8 37.9,137.0C40.9,137.9 41.3,136.3 37.9,133.8C42.3,134.4 43.9,129.6 38.6,123.4C46.5,128.9 47.1,127.4 40.3,120.9C47.6,126.3 48.4,124.4 43.3,118.6C48.1,121.6 49.8,118.3 46.3,112.4C50.6,115.7 52.5,112.8 46.7,102.7C55.1,114.1 55.6,113.3 51.6,106.8C55.0,108.3 58.9,103.9 56.2,94.0C62.2,104.9 63.9,103.5 59.0,89.6C65.2,102.0 67.8,100.1 66.3,92.1C68.6,98.1 69.6,97.5 68.0,90.6C70.2,95.3 72.4,94.1 70.8,83.7C74.3,94.5 77.2,93.4 77.3,88.0C78.3,91.9 79.6,91.6 79.0,83.6C80.7,92.0 82.6,91.6 82.5,82.8C84.0,94.1 85.6,94.0 85.6,82.1C86.7,93.0 88.7,92.9 89.4,81.6C89.8,91.6 91.2,91.7 91.8,86.2Z" fill="#179f4d"/>
<path d="M90.0,94.0C90.3,103.8 91.7,103.9 92.7,94.2C92.4,103.2 93.0,103.3 93.9,93.3C93.7,100.2 94.4,100.3 95.1,95.4C94.8,103.0 96.0,103.2 97.6,94.0C97.3,104.7 100.3,105.7 103.8,94.8C102.1,105.5 104.1,106.4 107.2,97.8C105.1,109.1 107.7,110.8 114.3,96.3C109.2,110.8 110.0,111.5 114.9,100.7C111.8,110.6 114.1,112.6 118.6,106.1C115.5,113.6 117.2,115.4 124.3,105.6C116.5,119.0 117.5,120.2 123.5,112.2C119.3,120.3 121.4,123.4 127.9,117.6C122.7,124.6 123.7,126.4 130.3,120.7C124.7,128.0 126.2,131.2 133.1,127.1C127.3,132.7 128.1,134.8 134.2,131.5C126.7,137.4 127.4,139.4 133.7,136.5C128.6,139.9 129.0,141.2 140.3,135.7C129.0,142.8 129.7,145.9 136.4,144.5C132.7,146.4 133.0,147.9 138.2,146.7C130.1,150.2 130.5,152.9 137.4,152.3C132.4,154.8 132.7,159.1 139.8,160.2C131.9,161.4 131.9,163.9 137.7,165.0C133.8,165.6 133.7,168.0 137.8,169.4C131.1,168.9 131.0,170.1 137.3,171.8C131.3,171.6 130.9,174.4 136.2,177.0C130.1,176.1 129.6,178.7 135.8,182.3C131.3,181.3 130.7,183.6 138.9,188.8C128.7,184.3 128.0,186.5 132.7,190.3C127.6,187.6 127.0,189.1 136.0,196.0C126.0,190.1 124.9,192.7 133.1,201.0C124.3,194.6 123.1,197.0 127.6,203.0C122.4,198.1 121.9,199.1 128.3,207.0C122.6,200.9 122.2,201.5 127.6,208.4C121.2,201.6 120.3,202.9 125.8,210.9C120.2,205.0 118.5,207.2 121.7,213.8C116.8,207.7 115.2,209.6 119.7,219.6C114.3,211.7 112.0,213.7 114.7,222.5C110.2,213.0 109.0,213.9 114.5,229.6C109.1,216.9 107.7,217.8 109.8,226.0C106.2,216.2 105.3,216.7 108.5,228.7C105.3,219.8 103.9,220.6 105.3,228.4C102.8,220.7 101.4,221.3 103.1,231.8C100.6,223.1 98.8,223.8 98.8,228.0C97.4,220.7 96.3,221.0 96.9,228.3C95.7,222.4 94.3,222.7 94.7,233.2C93.4,224.9 91.6,225.1 91.2,231.1C90.4,221.2 88.8,221.3 88.2,229.8C88.0,222.4 87.2,222.4 86.7,230.4C86.4,223.1 84.7,222.9 83.0,237.2C83.7,224.7 82.8,224.6 82.0,229.1C82.3,220.4 80.4,219.9 76.9,237.4C79.1,219.6 77.3,218.9 74.6,228.5C75.5,221.7 74.1,221.0 71.7,227.8C73.9,216.6 72.0,215.5 66.9,228.4C69.6,218.0 67.7,216.6 64.1,223.3C66.4,215.6 64.6,214.1 58.2,225.3C64.5,211.4 63.4,210.3 55.8,223.0C61.6,211.4 60.5,210.2 57.8,213.6C60.5,207.0 58.3,204.1 53.7,208.1C57.8,202.2 57.1,201.1 50.4,208.4C55.3,202.3 54.9,201.7 49.1,208.0C55.8,199.4 54.7,197.5 43.7,207.4C52.1,198.7 51.7,197.9 47.0,201.9C51.5,197.5 51.3,197.0 44.9,202.6C52.1,195.5 51.6,194.4 45.7,198.8C51.1,193.0 50.0,190.2 39.3,196.3C48.6,189.3 48.2,187.8 43.8,189.9C47.7,187.0 47.4,185.9 43.9,187.3C48.8,184.2 48.5,183.2 38.6,187.7C47.7,181.9 46.9,178.3 40.9,179.1C46.6,176.5 46.3,174.8 38.0,176.4C47.4,173.5 47.3,172.6 40.3,173.8C46.0,171.8 45.8,169.6 36.2,170.2C45.0,168.2 44.8,165.8 34.7,165.6C44.5,162.7 44.8,155.6 34.4,151.0C45.5,152.4 45.9,149.5 41.4,147.1C46.8,148.3 47.0,147.0 41.6,144.4C46.3,145.6 46.7,144.0 41.9,141.2C46.2,142.5 46.7,140.6 43.5,138.2C47.3,139.2 48.1,136.6 44.5,133.1C49.9,135.2 51.3,131.7 48.3,127.4C51.0,128.4 52.4,125.6 49.5,121.2C54.7,125.6 55.7,123.9 52.3,118.9C56.4,122.8 57.6,121.0 50.3,110.0C58.1,119.8 59.0,118.6 54.8,111.5C60.4,118.2 62.4,115.9 59.9,109.2C63.4,113.7 65.6,111.6 63.7,105.0C66.7,110.1 68.4,108.8 64.1,95.2C68.8,106.7 69.9,106.0 66.2,93.4C72.4,109.1 75.2,107.6 74.2,98.6C76.4,106.1 77.7,105.6 75.7,92.5C78.5,106.0 79.3,105.7 77.0,90.4C79.5,103.4 80.5,103.1 79.3,91.9C81.6,104.8 83.3,104.5 82.8,93.0C84.7,104.8 87.2,104.5 87.8,92.8C88.3,103.6 89.5,103.6 90.0,94.0Z" fill="#f6e416"/>
<path d="M92.4,108.1C92.8,114.5 94.5,114.7 95.5,109.2C95.7,114.3 97.7,114.8 99.1,110.2C98.3,118.2 99.6,118.6 101.8,109.9C100.7,117.2 101.8,117.7 105.0,106.4C101.8,120.7 102.7,121.1 105.1,113.8C104.1,117.9 104.7,118.2 107.0,111.6C105.6,120.8 109.3,123.6 114.4,117.0C111.0,124.6 112.0,125.6 115.9,119.6C112.2,126.8 112.9,127.7 116.9,122.3C113.0,129.3 114.0,130.6 118.2,126.0C116.6,128.8 117.4,130.0 124.6,122.2C116.7,133.6 118.8,137.4 123.9,134.9C120.8,138.3 121.6,140.2 126.8,137.4C121.4,142.1 122.1,144.2 126.0,142.9C123.1,145.5 123.7,147.9 129.6,146.3C123.7,149.3 124.0,150.8 129.1,149.6C122.7,152.3 122.9,153.9 130.3,152.7C124.8,154.4 125.0,155.6 128.9,155.3C123.5,156.9 123.7,158.9 134.1,158.8C125.9,159.8 125.9,160.8 130.8,161.0C124.0,163.0 123.7,168.5 128.3,171.5C124.3,171.7 123.7,175.2 129.2,178.9C122.6,176.7 122.1,178.6 129.3,183.3C121.8,180.0 121.0,182.3 128.3,188.3C121.0,183.4 120.8,183.9 127.3,188.9C119.9,184.1 119.3,185.6 124.0,190.2C120.6,187.9 120.1,189.1 126.7,195.9C119.0,190.0 117.5,192.5 119.8,196.6C115.2,191.9 114.5,193.0 117.9,198.4C114.3,194.9 112.6,197.0 115.4,203.3C111.0,197.3 109.4,198.8 112.4,206.6C110.3,202.6 109.8,203.1 114.5,214.0C108.4,202.1 106.9,203.2 111.0,216.0C106.8,205.6 105.8,206.3 106.8,210.2C103.9,203.8 101.9,204.8 103.5,214.9C100.7,205.5 99.1,206.1 100.7,218.3C98.5,207.1 97.7,207.3 98.8,216.8C97.0,205.9 96.3,206.1 97.9,221.9C95.7,208.5 93.9,208.8 93.5,214.1C92.6,206.4 91.0,206.5 90.2,222.6C89.9,206.9 88.5,206.8 87.5,214.2C87.0,209.3 84.7,208.9 82.0,221.3C83.1,208.2 80.4,207.2 78.2,211.8C79.0,205.6 77.0,204.5 73.7,211.6C76.7,201.7 75.7,200.9 71.9,209.2C73.7,200.3 69.7,196.3 64.7,200.3C67.2,194.3 64.9,190.7 58.1,195.6C63.2,189.3 62.1,187.3 56.8,190.7C60.5,186.8 59.7,185.0 57.1,186.0C61.4,182.3 60.8,180.5 54.3,183.6C60.9,179.1 60.4,177.4 50.5,181.6C58.1,177.4 57.8,176.0 54.4,176.8C59.8,173.5 59.3,170.1 46.4,171.8C58.4,168.0 58.2,164.4 51.9,163.4C58.5,162.7 58.5,161.2 48.1,160.1C56.1,160.0 56.2,158.5 46.6,156.8C56.6,157.4 56.8,155.6 53.6,154.3C58.6,155.1 58.8,154.1 52.5,152.1C56.3,152.4 56.6,150.4 52.0,148.0C57.9,149.6 58.2,148.0 55.2,146.0C59.4,147.0 60.1,144.4 55.3,140.5C59.9,142.9 60.3,141.8 55.8,138.3C60.3,140.2 61.5,137.3 58.3,133.2C62.3,135.9 63.2,134.3 58.7,128.8C64.0,133.4 65.1,131.7 60.5,125.3C66.1,131.5 66.6,130.8 62.2,124.6C66.5,128.9 67.9,127.1 65.9,122.5C68.8,126.6 69.3,126.0 66.5,120.6C70.1,125.6 71.5,124.3 68.6,117.3C72.7,123.8 74.5,122.3 73.0,116.3C74.9,119.9 76.2,119.1 74.9,113.5C77.5,119.4 79.2,118.4 78.4,113.1C80.2,117.6 81.7,116.9 80.5,108.0C83.0,115.5 86.1,114.8 86.2,103.1C87.7,116.3 89.2,116.1 89.5,110.3C90.1,115.5 91.7,115.5 92.4,108.1Z" fill="#ea672f"/>
<path d="M95.7,126.3C95.5,133.0 96.3,133.1 97.2,127.4C97.1,131.7 98.1,132.0 99.2,128.0C99.2,132.6 101.5,133.6 104.5,127.2C102.4,134.5 103.2,134.9 105.6,129.2C103.2,136.4 103.9,136.9 107.2,130.2C105.7,135.3 107.3,136.8 111.3,131.4C108.1,138.0 109.4,139.5 112.7,136.2C110.6,140.7 112.3,143.4 116.8,140.7C111.2,146.7 111.9,148.3 118.4,144.4C114.0,148.0 114.5,149.3 118.8,147.2C113.0,151.3 113.5,152.9 119.0,151.2C114.2,153.8 114.6,155.5 118.5,154.9C114.2,156.8 114.4,158.5 119.5,158.3C116.7,159.3 116.8,161.2 120.3,161.7C115.2,162.4 115.2,164.0 121.2,165.1C115.0,165.2 114.8,167.2 119.2,169.0C115.3,168.9 114.8,171.5 119.7,174.6C114.6,173.2 113.8,175.4 117.8,178.9C113.5,176.8 112.8,178.5 119.3,184.7C112.9,180.3 111.7,182.4 113.7,185.8C109.3,181.7 108.2,183.2 112.6,190.4C107.7,184.5 106.5,185.8 108.6,190.9C105.3,186.1 104.0,187.3 107.2,196.6C103.8,190.7 101.5,192.1 102.4,198.9C99.5,190.3 97.5,190.9 98.0,199.2C96.3,192.1 94.1,192.4 93.4,197.6C93.1,193.6 92.3,193.6 91.9,197.6C91.6,193.0 90.5,192.9 89.5,198.9C90.0,191.4 89.1,191.2 87.8,198.5C87.8,193.4 85.6,192.6 84.2,195.0C84.6,191.1 82.9,190.1 80.0,195.7C82.0,189.3 80.7,188.3 78.6,191.3C79.6,187.9 78.0,186.3 75.4,188.9C76.8,185.9 75.8,184.6 71.0,189.7C75.0,183.9 74.1,182.5 70.1,185.8C73.7,181.6 73.1,180.6 70.1,182.6C73.7,178.6 72.9,176.8 67.8,179.4C73.0,175.1 72.3,173.2 68.5,174.2C72.4,172.0 72.1,171.0 64.5,173.6C69.9,170.6 69.4,168.1 65.5,168.0C69.4,166.9 69.3,165.7 61.8,166.2C68.8,164.8 68.7,162.7 66.2,162.0C68.8,161.7 68.9,160.5 65.3,159.7C69.3,159.4 69.5,157.4 64.8,155.5C71.5,156.8 71.7,155.6 67.7,153.8C72.0,154.6 72.5,152.6 66.4,148.7C72.6,151.0 73.5,148.8 69.2,144.6C73.0,147.0 73.4,146.1 68.7,141.6C73.1,144.8 73.8,143.6 71.1,140.2C74.6,143.0 75.6,141.5 70.5,134.2C76.0,140.3 76.8,139.2 74.4,134.8C77.6,138.4 78.9,137.1 75.8,129.9C79.8,136.3 81.2,135.2 79.5,129.7C82.3,134.7 84.1,133.7 82.1,124.2C85.8,134.8 87.6,134.1 86.2,122.0C88.6,133.6 89.7,133.3 89.0,122.4C90.9,133.2 93.2,133.1 94.3,124.9C94.2,133.0 95.0,133.1 95.7,126.3Z" fill="#db2b3e"/>
<g mask="url(#rm)"><use href="#bo" fill="none" stroke="#ffffff" stroke-opacity="0.40" stroke-width="11"/><use href="#bo" fill="none" stroke="#ffffff" stroke-opacity="0.25" stroke-width="3"/></g>
<path d="M85,65.6C82,95.6 74,130.6 67.5,160.6C61.5,190.6 57.5,215.6 51.5,235" fill="none" stroke="#27272b" stroke-width="3.3" stroke-linecap="round"/>
<path d="M51.5,235C42,266 27,300 14.5,319.6L8,327" fill="none" stroke="#2a2a30" stroke-width="1.3" stroke-linecap="round"/>
<circle cx="85.3" cy="63.8" r="6.6" fill="#1d1d22"/>
<circle cx="85.3" cy="63.8" r="3.6" fill="#2e2e36"/>
<text x="88.5" y="159.4" font-family="'Liberation Sans',sans-serif" font-weight="700" font-size="6.3" fill="#ffffff" text-anchor="middle" textLength="48" lengthAdjust="spacingAndGlyphs">SURFBOARD</text>
<text transform="translate(88.5,160) scale(1,-1)" x="0" y="0" font-family="'Liberation Sans',sans-serif" font-weight="700" font-size="6.3" fill="#1a1030" text-anchor="middle" textLength="48" lengthAdjust="spacingAndGlyphs">SURFBOARD</text>
</g>
</g>
</svg>
<h1><span style="transform:scaleX(1.0694)">Specification</span></h1>
<div class="lab" style="top:80.4px"><span style="transform:scaleX(1.2051)">100cm</span></div><div class="lab" style="top:145.5px"><span style="transform:scaleX(1.2603)">80cm</span></div><div class="lab" style="top:210.6px"><span style="transform:scaleX(1.2603)">60cm</span></div><div class="lab" style="top:275.6px"><span style="transform:scaleX(1.2603)">40cm</span></div><div class="lab" style="top:340.7px"><span style="transform:scaleX(1.2507)">20cm</span></div><div class="lab" style="top:405.8px"><span style="transform:scaleX(1.2949)">0cm</span></div>
<div class="tb"></div><div class="vl" style="left:202px"></div><div class="vl" style="left:356px"></div><div class="vl" style="left:510px"></div>
<div class="row hd"><div class="c c0"><span style="transform:scaleX(1.1186)">Board Length</span></div><div class="c c1"><span style="transform:scaleX(1.2225)">84 cm</span></div><div class="c c2"><span style="transform:scaleX(1.2290)">94 cm</span></div><div class="c c3"><span style="transform:scaleX(1.1641)">104 cm</span></div></div>
<div class="row" style="top:473.4px"><div class="c c0"><span style="transform:scaleX(1.1458)">Board Width</span></div><div class="c c1"><span style="transform:scaleX(1.2225)">46 cm</span></div><div class="c c2"><span style="transform:scaleX(1.1639)">48.5 cm</span></div><div class="c c3"><span style="transform:scaleX(1.2074)">52 cm</span></div></div>
<div class="row" style="top:505.3px"><div class="c c0"><span style="transform:scaleX(1.0854)">Board Thickness</span></div><div class="c c1"><span style="transform:scaleX(1.2241)">5 cm</span></div><div class="c c2"><span style="transform:scaleX(1.1542)">5.5 cm</span></div><div class="c c3"><span style="transform:scaleX(1.1542)">5.5 cm</span></div></div>
<div class="row" style="top:537.2px"><div class="c c0"><span style="transform:scaleX(1.1408)">Board Weight</span></div><div class="c c1"><span style="transform:scaleX(1.1682)">0.6 kg</span></div><div class="c c2"><span style="transform:scaleX(1.1746)">0.7 kg</span></div><div class="c c3"><span style="transform:scaleX(1.1876)">0.8 kg</span></div></div>
<div class="row" style="top:569.1px"><div class="c c0"><span style="transform:scaleX(1.1499)">Rider Weight</span></div><div class="c c1"><span style="transform:scaleX(1.1958)">up to 59 kg</span></div><div class="c c2"><span style="transform:translateX(2.5px) scaleX(1.1474)">up to 72.5 kg</span></div><div class="c c3"><span style="transform:scaleX(1.1519)">up to 91 kg</span></div></div>
<div class="row" style="top:601.0px"><div class="c c0"><span style="transform:scaleX(1.1448)">Rider Height</span></div><div class="c c1"><span style="transform:scaleX(1.0499)">114.5 cm</span></div><div class="c c2"><span style="transform:scaleX(1.1552)">140 cm</span></div><div class="c c3"><span style="transform:scaleX(1.1282)">180.5 cm</span></div></div>
<div class="row" style="top:632.9px"><div class="c c0"><span style="transform:scaleX(1.1271)">Rider Age</span></div><div class="c c1"><span style="transform:scaleX(1.1129)">6+ years old</span></div><div class="c c2"><span style="transform:scaleX(1.0707)">12+ years old</span></div><div class="c c3"><span style="transform:scaleX(1.0620)">14+ years old</span></div></div>
<div class="hl" style="left:201.8px"></div><div class="hl" style="left:355.8px"></div><div class="hl" style="left:509.8px"></div>
</body></html>
